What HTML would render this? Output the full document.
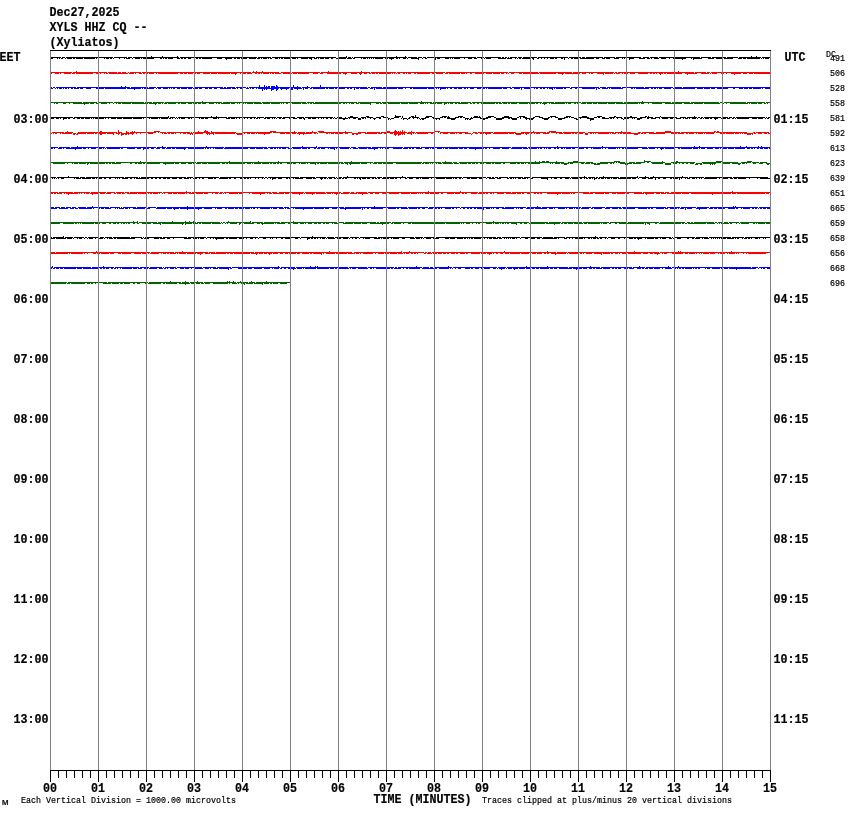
<!DOCTYPE html>
<html><head><meta charset="utf-8"><title>XYLS HHZ CQ -- (Xyliatos)</title>
<style>
html,body{margin:0;padding:0;background:#fff;}
body{width:850px;height:814px;overflow:hidden;}
svg{display:block;will-change:transform;}
.b{font-family:"Liberation Mono","DejaVu Sans Mono",monospace;font-weight:bold;font-size:13.66px;fill:#000;stroke:#000;stroke-width:.2px;}
.t{font-family:"Liberation Mono","DejaVu Sans Mono",monospace;font-weight:normal;font-size:9.1px;fill:#000;stroke:#000;stroke-width:.2px;}
</style></head><body>
<svg width="850" height="814" viewBox="0 0 850 814">
<rect width="850" height="814" fill="#fff"/>
<g shape-rendering="crispEdges">
<path fill="#000000" d="M50 57h3v2h-3zM53 57h4v1h-4zM57 57h1v2h-1zM58 57h1v1h-1zM59 57h1v2h-1zM60 57h1v1h-1zM61 58h1v1h-1zM62 57h1v2h-1zM63 57h2v1h-2zM65 58h1v1h-1zM66 57h1v1h-1zM67 57h5v2h-5zM72 57h1v1h-1zM73 57h2v2h-2zM75 57h1v1h-1zM76 57h7v2h-7zM83 57h1v1h-1zM84 57h11v2h-11zM95 57h1v1h-1zM96 57h1v2h-1zM97 57h1v1h-1zM98 57h1v2h-1zM99 57h5v1h-5zM104 57h1v2h-1zM105 57h1v1h-1zM106 57h3v2h-3zM109 57h1v1h-1zM110 57h2v2h-2zM112 57h1v1h-1zM113 58h1v1h-1zM114 57h5v1h-5zM119 57h1v2h-1zM120 57h4v1h-4zM124 57h1v2h-1zM125 57h1v1h-1zM126 57h1v2h-1zM127 58h1v1h-1zM128 57h2v2h-2zM130 57h2v1h-2zM132 58h1v1h-1zM133 57h2v1h-2zM135 57h5v2h-5zM140 57h1v1h-1zM141 57h1v2h-1zM142 57h1v1h-1zM143 57h8v2h-8zM151 56h1v3h-1zM152 57h2v2h-2zM154 57h6v1h-6zM160 57h2v2h-2zM162 56h1v2h-1zM163 57h1v2h-1zM164 57h1v1h-1zM165 57h2v2h-2zM167 57h1v1h-1zM168 57h5v2h-5zM173 57h4v1h-4zM177 56h1v3h-1zM178 57h1v2h-1zM179 58h1v1h-1zM180 57h1v1h-1zM181 57h2v2h-2zM183 57h1v1h-1zM184 57h2v2h-2zM186 57h2v1h-2zM188 57h3v2h-3zM191 57h3v1h-3zM194 57h1v2h-1zM195 57h1v1h-1zM196 57h2v2h-2zM198 57h1v1h-1zM199 57h2v2h-2zM201 57h1v1h-1zM202 57h10v2h-10zM212 57h5v1h-5zM217 57h5v2h-5zM222 57h3v1h-3zM225 57h1v2h-1zM226 57h1v3h-1zM227 57h5v2h-5zM232 57h2v1h-2zM234 57h2v2h-2zM236 57h1v1h-1zM237 57h3v2h-3zM240 57h1v1h-1zM241 57h1v2h-1zM242 57h1v1h-1zM243 57h4v2h-4zM247 57h2v1h-2zM249 57h7v2h-7zM256 57h1v1h-1zM257 58h1v1h-1zM258 57h2v2h-2zM260 57h1v1h-1zM261 57h1v2h-1zM262 57h1v1h-1zM263 57h4v2h-4zM267 57h1v1h-1zM268 57h1v2h-1zM269 57h1v1h-1zM270 57h1v2h-1zM271 58h1v1h-1zM272 57h3v1h-3zM275 57h3v2h-3zM278 57h1v1h-1zM279 57h1v2h-1zM280 57h1v1h-1zM281 57h2v2h-2zM283 57h1v1h-1zM284 57h6v2h-6zM290 57h2v1h-2zM292 57h4v2h-4zM296 57h1v1h-1zM297 57h1v2h-1zM298 57h3v1h-3zM301 57h7v2h-7zM308 57h1v1h-1zM309 57h2v2h-2zM311 57h1v3h-1zM312 57h2v1h-2zM314 57h1v2h-1zM315 58h1v1h-1zM316 57h1v2h-1zM317 57h1v1h-1zM318 57h1v2h-1zM319 57h1v1h-1zM320 57h4v2h-4zM324 57h1v1h-1zM325 57h4v2h-4zM329 57h2v1h-2zM331 57h2v2h-2zM333 57h3v1h-3zM336 58h2v1h-2zM338 57h1v1h-1zM339 57h7v2h-7zM346 56h1v2h-1zM347 58h1v1h-1zM348 57h3v2h-3zM351 58h1v1h-1zM352 57h1v1h-1zM353 58h1v1h-1zM354 57h1v2h-1zM355 57h6v1h-6zM361 57h1v2h-1zM362 57h1v1h-1zM363 57h3v2h-3zM366 57h1v1h-1zM367 57h1v2h-1zM368 57h1v1h-1zM369 57h1v2h-1zM370 57h1v1h-1zM371 57h1v2h-1zM372 57h1v1h-1zM373 57h1v2h-1zM374 57h1v1h-1zM375 57h8v2h-8zM383 57h2v1h-2zM385 57h3v2h-3zM388 57h1v1h-1zM389 57h2v2h-2zM391 57h1v3h-1zM392 57h2v2h-2zM394 57h2v1h-2zM396 56h1v3h-1zM397 57h1v2h-1zM398 57h1v1h-1zM399 57h1v2h-1zM400 57h3v1h-3zM403 57h2v2h-2zM405 56h1v3h-1zM406 57h1v1h-1zM407 58h1v1h-1zM408 57h3v1h-3zM411 57h6v2h-6zM417 58h1v1h-1zM418 57h1v3h-1zM419 57h3v1h-3zM422 58h1v1h-1zM423 57h2v1h-2zM425 57h1v2h-1zM426 58h1v1h-1zM427 57h7v1h-7zM434 57h1v2h-1zM435 57h1v3h-1zM436 57h1v1h-1zM437 57h3v2h-3zM440 57h5v1h-5zM445 57h4v2h-4zM449 57h1v1h-1zM450 57h1v2h-1zM451 57h1v1h-1zM452 57h1v2h-1zM453 57h1v1h-1zM454 57h6v2h-6zM460 57h4v1h-4zM464 57h1v2h-1zM465 57h3v1h-3zM468 57h4v2h-4zM472 57h2v1h-2zM474 57h2v2h-2zM476 58h1v1h-1zM477 57h4v1h-4zM481 57h1v2h-1zM482 57h2v1h-2zM484 58h1v1h-1zM485 57h1v1h-1zM486 57h5v2h-5zM491 57h7v1h-7zM498 57h3v2h-3zM501 58h1v1h-1zM502 57h2v2h-2zM504 58h1v1h-1zM505 57h1v2h-1zM506 57h1v1h-1zM507 58h1v1h-1zM508 57h1v2h-1zM509 58h1v1h-1zM510 57h2v2h-2zM512 57h3v1h-3zM515 57h1v2h-1zM516 57h1v1h-1zM517 58h1v1h-1zM518 57h1v1h-1zM519 57h2v2h-2zM521 57h1v1h-1zM522 58h1v1h-1zM523 57h7v2h-7zM530 57h2v1h-2zM532 57h1v2h-1zM533 57h1v3h-1zM534 57h3v1h-3zM537 58h1v1h-1zM538 57h1v2h-1zM539 57h2v1h-2zM541 57h1v2h-1zM542 57h2v1h-2zM544 57h1v2h-1zM545 57h2v1h-2zM547 57h1v2h-1zM548 57h2v1h-2zM550 57h4v2h-4zM554 57h1v1h-1zM555 57h2v2h-2zM557 57h4v1h-4zM561 57h2v2h-2zM563 57h1v1h-1zM564 57h1v3h-1zM565 57h3v1h-3zM568 58h1v1h-1zM569 57h2v1h-2zM571 57h2v2h-2zM573 57h1v1h-1zM574 57h5v2h-5zM579 57h1v1h-1zM580 57h1v2h-1zM581 58h1v1h-1zM582 57h3v2h-3zM585 58h1v1h-1zM586 57h8v2h-8zM594 57h2v1h-2zM596 57h3v2h-3zM599 57h3v1h-3zM602 57h1v2h-1zM603 58h1v1h-1zM604 57h1v2h-1zM605 57h1v1h-1zM606 57h4v2h-4zM610 57h4v1h-4zM614 57h1v2h-1zM615 58h1v1h-1zM616 57h3v2h-3zM619 57h3v1h-3zM622 57h1v2h-1zM623 57h1v1h-1zM624 57h1v2h-1zM625 57h1v1h-1zM626 57h1v2h-1zM627 57h2v1h-2zM629 57h1v3h-1zM630 57h4v2h-4zM634 57h5v1h-5zM639 57h2v2h-2zM641 58h2v1h-2zM643 57h2v2h-2zM645 57h2v1h-2zM647 57h2v2h-2zM649 58h1v1h-1zM650 57h1v1h-1zM651 57h1v2h-1zM652 57h2v1h-2zM654 57h4v2h-4zM658 58h1v1h-1zM659 57h2v1h-2zM661 57h5v2h-5zM666 57h3v1h-3zM669 57h1v2h-1zM670 57h3v1h-3zM673 57h9v2h-9zM682 57h1v3h-1zM683 57h3v2h-3zM686 57h5v1h-5zM691 57h1v2h-1zM692 57h1v1h-1zM693 57h1v3h-1zM694 57h6v2h-6zM700 58h1v1h-1zM701 57h1v2h-1zM702 57h6v1h-6zM708 57h3v2h-3zM711 58h1v1h-1zM712 57h2v2h-2zM714 57h2v1h-2zM716 57h7v2h-7zM723 57h1v1h-1zM724 57h2v2h-2zM726 58h1v1h-1zM727 57h6v2h-6zM733 57h5v1h-5zM738 58h1v1h-1zM739 57h3v2h-3zM742 57h1v1h-1zM743 57h3v2h-3zM746 57h1v1h-1zM747 57h4v2h-4zM751 56h1v3h-1zM752 57h4v2h-4zM756 56h1v3h-1zM757 57h3v2h-3zM760 57h1v1h-1zM761 58h1v1h-1zM762 57h1v1h-1zM763 57h1v2h-1zM764 57h1v1h-1zM765 57h4v2h-4zM769 57h2v1h-2z"/>
<path fill="#ff0000" d="M50 72h2v2h-2zM52 72h3v1h-3zM55 72h4v2h-4zM59 72h1v1h-1zM60 72h1v2h-1zM61 72h3v1h-3zM64 72h7v2h-7zM71 72h1v1h-1zM72 73h1v1h-1zM73 72h2v2h-2zM75 72h1v1h-1zM76 71h1v3h-1zM77 72h16v2h-16zM93 72h3v1h-3zM96 72h2v2h-2zM98 72h2v1h-2zM100 72h1v2h-1zM101 72h3v1h-3zM104 72h1v2h-1zM105 72h1v1h-1zM106 72h1v2h-1zM107 73h1v1h-1zM108 72h1v1h-1zM109 72h8v2h-8zM117 73h1v1h-1zM118 72h3v2h-3zM121 73h1v1h-1zM122 72h4v2h-4zM126 73h2v1h-2zM128 72h1v1h-1zM129 73h1v1h-1zM130 72h4v2h-4zM134 72h1v1h-1zM135 72h1v2h-1zM136 72h3v1h-3zM139 72h2v2h-2zM141 73h1v1h-1zM142 72h1v1h-1zM143 72h2v2h-2zM145 72h2v1h-2zM147 72h1v2h-1zM148 72h1v1h-1zM149 72h5v2h-5zM154 72h2v1h-2zM156 72h1v2h-1zM157 72h1v1h-1zM158 72h20v2h-20zM178 72h2v1h-2zM180 72h3v2h-3zM183 72h1v1h-1zM184 72h3v2h-3zM187 72h1v1h-1zM188 72h5v2h-5zM193 72h1v1h-1zM194 72h2v2h-2zM196 72h1v1h-1zM197 72h3v2h-3zM200 72h3v1h-3zM203 72h7v2h-7zM210 72h1v1h-1zM211 72h6v2h-6zM217 72h1v1h-1zM218 72h12v2h-12zM230 72h1v1h-1zM231 72h4v2h-4zM235 72h1v3h-1zM236 72h1v2h-1zM237 72h3v1h-3zM240 72h1v2h-1zM241 72h1v1h-1zM242 72h4v2h-4zM246 72h1v1h-1zM247 72h4v2h-4zM251 73h1v1h-1zM252 72h1v1h-1zM253 71h1v2h-1zM254 72h1v1h-1zM255 72h1v2h-1zM256 71h1v3h-1zM257 72h1v1h-1zM258 72h2v2h-2zM260 72h1v1h-1zM261 72h1v2h-1zM262 71h1v2h-1zM263 72h6v2h-6zM269 72h1v1h-1zM270 72h1v2h-1zM271 72h1v1h-1zM272 72h2v2h-2zM274 72h1v1h-1zM275 72h4v2h-4zM279 73h2v1h-2zM281 72h2v1h-2zM283 72h7v2h-7zM290 73h2v1h-2zM292 72h1v1h-1zM293 72h4v2h-4zM297 72h1v1h-1zM298 72h11v2h-11zM309 72h4v1h-4zM313 72h5v2h-5zM318 72h2v1h-2zM320 73h1v1h-1zM321 72h2v2h-2zM323 72h4v1h-4zM327 72h1v2h-1zM328 71h1v3h-1zM329 72h12v2h-12zM341 72h2v1h-2zM343 72h2v2h-2zM345 72h1v3h-1zM346 72h1v2h-1zM347 72h4v1h-4zM351 72h6v2h-6zM357 72h2v1h-2zM359 72h1v2h-1zM360 72h1v3h-1zM361 71h1v3h-1zM362 72h2v1h-2zM364 72h3v2h-3zM367 72h2v1h-2zM369 72h1v2h-1zM370 73h1v1h-1zM371 72h1v1h-1zM372 72h3v2h-3zM375 72h1v1h-1zM376 72h2v2h-2zM378 72h1v1h-1zM379 72h12v2h-12zM391 72h1v1h-1zM392 72h1v2h-1zM393 72h1v1h-1zM394 72h1v2h-1zM395 72h1v1h-1zM396 73h1v1h-1zM397 72h1v1h-1zM398 72h2v2h-2zM400 72h3v1h-3zM403 72h2v2h-2zM405 72h1v1h-1zM406 72h1v2h-1zM407 72h1v1h-1zM408 72h3v2h-3zM411 72h3v1h-3zM414 72h2v2h-2zM416 72h1v1h-1zM417 72h13v2h-13zM430 72h2v1h-2zM432 72h2v2h-2zM434 72h2v1h-2zM436 72h7v2h-7zM443 72h2v1h-2zM445 73h1v1h-1zM446 72h2v2h-2zM448 72h1v1h-1zM449 72h11v2h-11zM460 72h1v1h-1zM461 72h4v2h-4zM465 72h1v1h-1zM466 72h1v2h-1zM467 72h3v1h-3zM470 72h2v2h-2zM472 72h3v1h-3zM475 72h7v2h-7zM482 73h1v1h-1zM483 72h1v2h-1zM484 72h2v1h-2zM486 72h6v2h-6zM492 72h1v1h-1zM493 72h7v2h-7zM500 72h1v1h-1zM501 72h3v2h-3zM504 72h2v1h-2zM506 72h1v2h-1zM507 72h1v1h-1zM508 73h1v1h-1zM509 72h2v1h-2zM511 72h3v2h-3zM514 72h5v1h-5zM519 72h3v2h-3zM522 72h1v1h-1zM523 72h7v2h-7zM530 72h1v3h-1zM531 72h7v2h-7zM538 73h1v1h-1zM539 72h1v1h-1zM540 72h16v2h-16zM556 72h2v1h-2zM558 72h4v2h-4zM562 72h1v3h-1zM563 72h1v2h-1zM564 72h1v1h-1zM565 72h7v2h-7zM572 73h1v1h-1zM573 72h5v2h-5zM578 72h1v3h-1zM579 72h1v2h-1zM580 72h2v1h-2zM582 72h4v2h-4zM586 72h3v1h-3zM589 72h1v2h-1zM590 72h1v1h-1zM591 72h2v2h-2zM593 72h4v1h-4zM597 72h6v2h-6zM603 72h1v3h-1zM604 72h1v1h-1zM605 72h8v2h-8zM613 72h1v1h-1zM614 73h1v1h-1zM615 72h1v1h-1zM616 72h1v2h-1zM617 73h1v1h-1zM618 72h2v2h-2zM620 72h2v1h-2zM622 72h1v2h-1zM623 72h1v1h-1zM624 72h4v2h-4zM628 72h2v1h-2zM630 72h5v2h-5zM635 72h3v1h-3zM638 72h10v2h-10zM648 72h2v1h-2zM650 72h2v2h-2zM652 72h1v1h-1zM653 72h2v2h-2zM655 72h1v1h-1zM656 72h1v2h-1zM657 72h2v1h-2zM659 72h1v2h-1zM660 72h1v3h-1zM661 72h2v2h-2zM663 72h1v1h-1zM664 72h2v2h-2zM666 72h1v1h-1zM667 72h7v2h-7zM674 73h1v1h-1zM675 72h3v2h-3zM678 71h1v3h-1zM679 72h3v2h-3zM682 72h3v1h-3zM685 72h2v2h-2zM687 72h1v3h-1zM688 72h6v2h-6zM694 73h1v1h-1zM695 72h2v2h-2zM697 72h4v1h-4zM701 72h5v2h-5zM706 73h1v1h-1zM707 72h2v2h-2zM709 72h1v1h-1zM710 73h1v1h-1zM711 72h1v1h-1zM712 72h5v2h-5zM717 72h4v1h-4zM721 72h1v2h-1zM722 73h1v1h-1zM723 72h1v2h-1zM724 72h2v1h-2zM726 72h1v2h-1zM727 72h4v1h-4zM731 72h3v2h-3zM734 72h1v3h-1zM735 72h6v2h-6zM741 72h2v1h-2zM743 72h4v2h-4zM747 72h2v1h-2zM749 72h4v2h-4zM753 72h1v1h-1zM754 72h17v2h-17z"/>
<path fill="#0000ff" d="M50 87h2v2h-2zM52 88h1v1h-1zM53 87h2v1h-2zM55 88h1v1h-1zM56 87h1v1h-1zM57 87h1v2h-1zM58 87h1v1h-1zM59 87h3v2h-3zM62 87h1v1h-1zM63 87h1v2h-1zM64 87h1v1h-1zM65 87h2v2h-2zM67 87h1v1h-1zM68 87h1v2h-1zM69 87h2v1h-2zM71 87h2v2h-2zM73 87h1v1h-1zM74 87h2v2h-2zM76 88h1v1h-1zM77 87h2v2h-2zM79 87h1v1h-1zM80 87h3v2h-3zM83 87h3v1h-3zM86 87h5v2h-5zM91 87h5v1h-5zM96 87h8v2h-8zM104 87h1v1h-1zM105 87h16v2h-16zM121 86h1v3h-1zM122 87h3v2h-3zM125 86h1v3h-1zM126 87h1v1h-1zM127 87h3v2h-3zM130 88h1v1h-1zM131 87h3v2h-3zM134 87h1v3h-1zM135 87h6v2h-6zM141 87h1v1h-1zM142 87h1v2h-1zM143 87h1v1h-1zM144 87h2v2h-2zM146 87h1v1h-1zM147 87h1v2h-1zM148 88h1v1h-1zM149 87h5v2h-5zM154 87h2v1h-2zM156 88h1v1h-1zM157 87h1v1h-1zM158 87h3v2h-3zM161 87h2v1h-2zM163 87h5v2h-5zM168 87h1v1h-1zM169 87h1v2h-1zM170 87h1v1h-1zM171 87h1v2h-1zM172 87h1v1h-1zM173 87h2v2h-2zM175 87h2v1h-2zM177 87h3v2h-3zM180 87h1v1h-1zM181 87h6v2h-6zM187 87h1v1h-1zM188 87h4v2h-4zM192 87h1v1h-1zM193 88h1v1h-1zM194 87h1v1h-1zM195 87h3v2h-3zM198 87h1v1h-1zM199 87h3v2h-3zM202 87h3v1h-3zM205 87h3v2h-3zM208 87h1v1h-1zM209 87h3v2h-3zM212 87h2v1h-2zM214 87h3v2h-3zM217 87h3v1h-3zM220 87h3v2h-3zM223 88h1v1h-1zM224 87h2v2h-2zM226 88h1v1h-1zM227 87h4v2h-4zM231 87h1v1h-1zM232 87h3v2h-3zM235 88h1v1h-1zM236 87h1v1h-1zM237 87h1v2h-1zM238 87h2v1h-2zM240 87h2v2h-2zM242 87h4v1h-4zM246 88h1v1h-1zM247 87h1v2h-1zM248 88h1v1h-1zM249 87h1v1h-1zM250 87h1v2h-1zM251 87h1v1h-1zM252 87h2v2h-2zM254 87h2v1h-2zM256 87h1v2h-1zM257 87h1v1h-1zM258 87h1v2h-1zM259 85h1v4h-1zM260 87h2v2h-2zM262 87h1v4h-1zM263 87h1v2h-1zM264 85h1v5h-1zM265 87h1v2h-1zM266 86h1v4h-1zM267 87h1v2h-1zM268 86h2v3h-2zM270 88h1v1h-1zM271 86h1v5h-1zM272 86h2v4h-2zM274 86h1v3h-1zM275 87h1v2h-1zM276 85h1v6h-1zM277 86h1v4h-1zM278 87h1v2h-1zM279 87h1v1h-1zM280 87h1v2h-1zM281 87h1v3h-1zM282 87h4v2h-4zM286 87h1v3h-1zM287 87h2v2h-2zM289 87h1v1h-1zM290 86h1v4h-1zM291 87h2v3h-2zM293 85h1v3h-1zM294 87h3v2h-3zM297 86h1v4h-1zM298 87h3v2h-3zM301 88h1v1h-1zM302 87h1v1h-1zM303 87h1v3h-1zM304 87h1v1h-1zM305 87h2v2h-2zM307 86h1v3h-1zM308 87h2v1h-2zM310 88h1v1h-1zM311 87h1v2h-1zM312 87h1v1h-1zM313 87h7v2h-7zM320 85h1v4h-1zM321 87h4v2h-4zM325 87h1v1h-1zM326 87h2v2h-2zM328 87h1v1h-1zM329 87h5v2h-5zM334 87h1v1h-1zM335 87h2v2h-2zM337 87h1v1h-1zM338 87h7v2h-7zM345 87h2v1h-2zM347 87h2v2h-2zM349 87h1v1h-1zM350 87h2v2h-2zM352 87h2v1h-2zM354 87h1v3h-1zM355 87h1v1h-1zM356 87h3v2h-3zM359 87h1v1h-1zM360 87h7v2h-7zM367 88h1v1h-1zM368 87h2v1h-2zM370 88h1v1h-1zM371 87h2v2h-2zM373 87h1v1h-1zM374 87h1v3h-1zM375 87h1v1h-1zM376 87h6v2h-6zM382 88h1v1h-1zM383 87h14v2h-14zM397 87h1v1h-1zM398 87h5v2h-5zM403 87h2v1h-2zM405 87h1v2h-1zM406 87h4v1h-4zM410 87h2v2h-2zM412 87h1v1h-1zM413 87h14v2h-14zM427 87h1v1h-1zM428 87h7v2h-7zM435 87h1v1h-1zM436 87h1v2h-1zM437 87h1v1h-1zM438 87h1v2h-1zM439 87h1v1h-1zM440 87h1v3h-1zM441 87h5v2h-5zM446 87h1v1h-1zM447 87h1v2h-1zM448 87h2v1h-2zM450 87h2v2h-2zM452 87h2v1h-2zM454 87h3v2h-3zM457 87h1v1h-1zM458 87h4v2h-4zM462 87h2v1h-2zM464 87h2v2h-2zM466 87h1v1h-1zM467 87h1v2h-1zM468 87h2v1h-2zM470 87h4v2h-4zM474 87h3v1h-3zM477 87h4v2h-4zM481 87h1v1h-1zM482 87h3v2h-3zM485 87h1v1h-1zM486 87h1v2h-1zM487 87h1v1h-1zM488 87h14v2h-14zM502 87h1v1h-1zM503 87h4v2h-4zM507 87h3v1h-3zM510 87h1v2h-1zM511 88h1v1h-1zM512 87h2v1h-2zM514 87h6v2h-6zM520 87h1v1h-1zM521 87h1v3h-1zM522 87h2v1h-2zM524 87h6v2h-6zM530 87h4v1h-4zM534 87h1v2h-1zM535 87h1v1h-1zM536 87h2v2h-2zM538 87h2v1h-2zM540 87h2v2h-2zM542 87h1v1h-1zM543 87h2v2h-2zM545 87h2v1h-2zM547 87h1v2h-1zM548 87h1v1h-1zM549 87h3v2h-3zM552 87h1v3h-1zM553 87h1v1h-1zM554 87h1v2h-1zM555 87h1v1h-1zM556 87h7v2h-7zM563 87h1v1h-1zM564 87h2v2h-2zM566 87h4v1h-4zM570 88h1v1h-1zM571 87h1v2h-1zM572 87h3v1h-3zM575 87h2v2h-2zM577 87h5v1h-5zM582 87h13v2h-13zM595 87h1v1h-1zM596 87h1v3h-1zM597 87h1v1h-1zM598 87h1v2h-1zM599 88h1v1h-1zM600 87h2v1h-2zM602 87h4v2h-4zM606 88h1v1h-1zM607 87h1v2h-1zM608 87h1v1h-1zM609 87h1v2h-1zM610 87h1v1h-1zM611 87h10v2h-10zM621 88h1v1h-1zM622 87h1v2h-1zM623 87h8v1h-8zM631 87h2v2h-2zM633 87h1v1h-1zM634 87h1v2h-1zM635 87h1v1h-1zM636 87h8v2h-8zM644 88h1v1h-1zM645 87h4v2h-4zM649 87h2v1h-2zM651 87h2v2h-2zM653 87h1v1h-1zM654 87h2v2h-2zM656 87h1v1h-1zM657 87h1v2h-1zM658 87h1v1h-1zM659 87h3v2h-3zM662 87h2v1h-2zM664 87h7v2h-7zM671 87h2v1h-2zM673 88h1v1h-1zM674 87h8v2h-8zM682 88h1v1h-1zM683 87h12v2h-12zM695 87h2v1h-2zM697 87h6v2h-6zM703 87h1v1h-1zM704 87h6v2h-6zM710 87h1v1h-1zM711 87h4v2h-4zM715 87h2v1h-2zM717 87h11v2h-11zM728 87h5v1h-5zM733 87h2v2h-2zM735 87h4v1h-4zM739 87h4v2h-4zM743 87h1v1h-1zM744 87h4v2h-4zM748 87h1v1h-1zM749 87h3v2h-3zM752 87h1v1h-1zM753 87h8v2h-8zM761 87h1v1h-1zM762 87h1v2h-1zM763 87h2v1h-2zM765 87h6v2h-6z"/>
<path fill="#006400" d="M50 102h1v2h-1zM51 102h3v1h-3zM54 102h1v2h-1zM55 102h1v1h-1zM56 102h2v2h-2zM58 102h5v1h-5zM63 102h3v2h-3zM66 102h3v1h-3zM69 102h1v2h-1zM70 102h3v1h-3zM73 102h9v2h-9zM82 103h1v1h-1zM83 102h1v2h-1zM84 102h1v3h-1zM85 102h4v2h-4zM89 102h1v1h-1zM90 102h4v2h-4zM94 102h2v1h-2zM96 102h1v2h-1zM97 103h1v1h-1zM98 102h3v1h-3zM101 102h6v2h-6zM107 102h2v1h-2zM109 102h1v2h-1zM110 102h3v1h-3zM113 103h1v1h-1zM114 102h2v1h-2zM116 102h1v2h-1zM117 102h1v1h-1zM118 102h3v2h-3zM121 102h1v1h-1zM122 102h9v2h-9zM131 102h1v1h-1zM132 102h12v2h-12zM144 103h1v1h-1zM145 102h3v2h-3zM148 102h1v1h-1zM149 102h3v2h-3zM152 103h1v1h-1zM153 102h2v2h-2zM155 102h1v3h-1zM156 102h1v2h-1zM157 102h1v1h-1zM158 102h3v2h-3zM161 102h1v1h-1zM162 102h1v2h-1zM163 102h1v1h-1zM164 103h1v1h-1zM165 102h2v2h-2zM167 102h1v1h-1zM168 102h8v2h-8zM176 102h2v1h-2zM178 102h2v2h-2zM180 102h1v1h-1zM181 102h5v2h-5zM186 102h2v1h-2zM188 102h4v2h-4zM192 102h1v1h-1zM193 102h4v2h-4zM197 102h1v1h-1zM198 102h3v2h-3zM201 102h1v1h-1zM202 101h1v3h-1zM203 102h3v2h-3zM206 102h3v1h-3zM209 102h5v2h-5zM214 102h2v1h-2zM216 102h1v2h-1zM217 102h1v1h-1zM218 102h2v2h-2zM220 102h1v1h-1zM221 102h1v2h-1zM222 103h1v1h-1zM223 102h7v2h-7zM230 102h1v1h-1zM231 102h4v2h-4zM235 102h2v1h-2zM237 102h1v2h-1zM238 102h1v1h-1zM239 102h1v2h-1zM240 102h2v1h-2zM242 102h2v2h-2zM244 102h1v1h-1zM245 102h1v2h-1zM246 102h1v1h-1zM247 102h6v2h-6zM253 102h1v1h-1zM254 102h7v2h-7zM261 103h1v1h-1zM262 102h1v1h-1zM263 102h7v2h-7zM270 102h1v1h-1zM271 102h9v2h-9zM280 102h1v1h-1zM281 102h1v2h-1zM282 102h1v1h-1zM283 102h1v2h-1zM284 102h2v1h-2zM286 102h2v2h-2zM288 102h2v1h-2zM290 102h1v2h-1zM291 102h1v1h-1zM292 102h9v2h-9zM301 102h1v1h-1zM302 102h4v2h-4zM306 103h1v1h-1zM307 102h1v1h-1zM308 102h1v2h-1zM309 102h1v1h-1zM310 102h2v2h-2zM312 102h1v1h-1zM313 102h1v2h-1zM314 103h1v1h-1zM315 102h26v2h-26zM341 102h2v1h-2zM343 102h2v2h-2zM345 102h1v1h-1zM346 102h1v2h-1zM347 102h2v1h-2zM349 102h1v2h-1zM350 102h1v1h-1zM351 102h3v2h-3zM354 102h2v1h-2zM356 102h1v2h-1zM357 103h1v1h-1zM358 102h1v2h-1zM359 102h1v1h-1zM360 102h10v2h-10zM370 102h1v3h-1zM371 102h5v1h-5zM376 102h3v2h-3zM379 102h1v1h-1zM380 102h1v2h-1zM381 103h1v1h-1zM382 102h1v1h-1zM383 102h3v2h-3zM386 102h2v1h-2zM388 102h12v2h-12zM400 102h1v1h-1zM401 102h7v2h-7zM408 102h1v1h-1zM409 102h9v2h-9zM418 102h2v1h-2zM420 102h1v2h-1zM421 101h1v3h-1zM422 102h2v2h-2zM424 102h1v1h-1zM425 102h1v2h-1zM426 102h1v1h-1zM427 102h1v2h-1zM428 102h2v1h-2zM430 102h2v2h-2zM432 103h1v1h-1zM433 102h1v2h-1zM434 102h1v1h-1zM435 102h1v2h-1zM436 102h1v1h-1zM437 102h5v2h-5zM442 102h2v1h-2zM444 102h1v3h-1zM445 102h2v2h-2zM447 102h1v1h-1zM448 102h1v2h-1zM449 102h1v1h-1zM450 102h3v2h-3zM453 102h2v1h-2zM455 102h2v2h-2zM457 102h1v1h-1zM458 102h2v2h-2zM460 103h1v1h-1zM461 102h7v2h-7zM468 102h2v1h-2zM470 102h1v2h-1zM471 103h1v1h-1zM472 102h1v1h-1zM473 102h2v2h-2zM475 102h2v1h-2zM477 102h2v2h-2zM479 102h2v1h-2zM481 102h14v2h-14zM495 102h1v1h-1zM496 102h2v2h-2zM498 102h1v1h-1zM499 102h2v2h-2zM501 103h1v1h-1zM502 102h1v1h-1zM503 102h4v2h-4zM507 102h1v1h-1zM508 102h2v2h-2zM510 102h1v1h-1zM511 102h6v2h-6zM517 102h2v1h-2zM519 102h9v2h-9zM528 102h1v1h-1zM529 102h1v2h-1zM530 102h1v1h-1zM531 102h4v2h-4zM535 102h1v1h-1zM536 102h2v2h-2zM538 102h2v1h-2zM540 102h1v2h-1zM541 102h1v1h-1zM542 103h1v1h-1zM543 102h1v2h-1zM544 102h1v3h-1zM545 102h2v2h-2zM547 102h2v1h-2zM549 102h1v2h-1zM550 102h1v1h-1zM551 102h3v2h-3zM554 103h1v1h-1zM555 102h10v2h-10zM565 102h1v1h-1zM566 102h1v2h-1zM567 102h1v1h-1zM568 102h3v2h-3zM571 102h3v1h-3zM574 102h2v2h-2zM576 102h1v1h-1zM577 102h2v2h-2zM579 102h2v1h-2zM581 103h1v1h-1zM582 102h4v2h-4zM586 102h1v1h-1zM587 102h5v2h-5zM592 102h1v1h-1zM593 102h4v2h-4zM597 102h1v1h-1zM598 102h9v2h-9zM607 102h1v1h-1zM608 102h7v2h-7zM615 102h1v1h-1zM616 102h7v2h-7zM623 103h1v1h-1zM624 102h14v2h-14zM638 102h1v1h-1zM639 102h1v2h-1zM640 102h1v1h-1zM641 102h1v2h-1zM642 101h1v3h-1zM643 102h1v2h-1zM644 102h4v1h-4zM648 102h1v2h-1zM649 102h3v1h-3zM652 102h10v2h-10zM662 102h3v1h-3zM665 102h6v2h-6zM671 103h1v1h-1zM672 102h10v2h-10zM682 102h2v1h-2zM684 102h6v2h-6zM690 103h1v1h-1zM691 102h2v2h-2zM693 102h1v1h-1zM694 102h9v2h-9zM703 102h1v1h-1zM704 102h15v2h-15zM719 103h1v1h-1zM720 102h3v1h-3zM723 103h1v1h-1zM724 102h2v1h-2zM726 102h1v2h-1zM727 102h3v1h-3zM730 102h16v2h-16zM746 103h1v1h-1zM747 102h1v2h-1zM748 102h1v1h-1zM749 102h1v2h-1zM750 102h1v1h-1zM751 102h6v2h-6zM757 102h1v1h-1zM758 102h4v2h-4zM762 102h2v1h-2zM764 102h1v2h-1zM765 103h1v1h-1zM766 102h1v1h-1zM767 102h1v2h-1zM768 102h3v1h-3z"/>
<path fill="#000000" d="M50 117h1v1h-1zM51 117h3v2h-3zM54 117h2v1h-2zM56 117h3v2h-3zM59 117h1v1h-1zM60 117h1v2h-1zM61 117h2v1h-2zM63 117h1v3h-1zM64 117h3v2h-3zM67 117h1v1h-1zM68 117h2v2h-2zM70 117h3v1h-3zM73 118h1v1h-1zM74 117h1v2h-1zM75 117h2v1h-2zM77 117h3v2h-3zM80 117h1v1h-1zM81 117h3v2h-3zM84 117h1v1h-1zM85 117h5v2h-5zM90 117h1v1h-1zM91 117h1v2h-1zM92 117h1v1h-1zM93 117h1v2h-1zM94 117h1v1h-1zM95 117h9v2h-9zM104 117h1v1h-1zM105 117h1v2h-1zM106 117h2v1h-2zM108 117h1v2h-1zM109 117h2v1h-2zM111 117h5v2h-5zM116 117h1v1h-1zM117 117h5v2h-5zM122 117h1v1h-1zM123 117h9v2h-9zM132 117h1v1h-1zM133 117h9v2h-9zM142 117h1v1h-1zM143 117h1v2h-1zM144 117h5v1h-5zM149 117h1v2h-1zM150 117h1v1h-1zM151 117h7v2h-7zM158 117h1v1h-1zM159 117h1v2h-1zM160 117h1v1h-1zM161 117h7v2h-7zM168 116h1v2h-1zM169 118h1v1h-1zM170 117h1v2h-1zM171 117h1v1h-1zM172 117h1v2h-1zM173 117h2v1h-2zM175 118h1v1h-1zM176 117h1v1h-1zM177 118h1v1h-1zM178 117h1v1h-1zM179 117h1v2h-1zM180 117h1v1h-1zM181 117h4v2h-4zM185 117h3v1h-3zM188 117h2v2h-2zM190 117h1v1h-1zM191 117h1v2h-1zM192 117h2v1h-2zM194 117h1v2h-1zM195 117h4v1h-4zM199 117h1v2h-1zM200 117h1v1h-1zM201 117h3v2h-3zM204 117h1v1h-1zM205 117h3v2h-3zM208 117h3v1h-3zM211 116h1v2h-1zM212 117h1v1h-1zM213 117h3v2h-3zM216 116h1v3h-1zM217 117h1v1h-1zM218 117h1v2h-1zM219 117h7v1h-7zM226 117h1v2h-1zM227 118h1v1h-1zM228 117h2v2h-2zM230 117h1v1h-1zM231 117h4v2h-4zM235 117h1v1h-1zM236 117h1v2h-1zM237 117h2v1h-2zM239 117h1v2h-1zM240 117h2v1h-2zM242 117h1v2h-1zM243 117h1v1h-1zM244 117h1v2h-1zM245 117h2v1h-2zM247 117h1v2h-1zM248 117h2v1h-2zM250 117h2v2h-2zM252 117h2v1h-2zM254 117h1v2h-1zM255 117h1v1h-1zM256 118h1v1h-1zM257 117h1v2h-1zM258 117h1v1h-1zM259 117h1v2h-1zM260 117h4v1h-4zM264 118h1v1h-1zM265 117h1v2h-1zM266 117h1v1h-1zM267 117h3v2h-3zM270 117h2v1h-2zM272 117h1v2h-1zM273 117h1v1h-1zM274 117h1v2h-1zM275 117h1v1h-1zM276 118h1v1h-1zM277 117h2v1h-2zM279 117h2v2h-2zM281 117h1v1h-1zM282 118h1v1h-1zM283 117h2v2h-2zM285 117h4v1h-4zM289 117h1v2h-1zM290 117h3v1h-3zM293 117h2v2h-2zM295 118h2v1h-2zM297 117h2v1h-2zM299 117h3v2h-3zM302 117h1v1h-1zM303 117h1v2h-1zM304 118h1v2h-1zM305 117h3v1h-3zM308 117h3v2h-3zM311 117h1v1h-1zM312 117h4v2h-4zM316 117h2v1h-2zM318 117h1v2h-1zM319 117h2v1h-2zM321 117h1v2h-1zM322 117h1v1h-1zM323 117h1v2h-1zM324 117h2v1h-2zM326 117h2v2h-2zM328 117h2v1h-2zM330 117h2v2h-2zM332 117h1v1h-1zM333 118h1v1h-1zM334 117h1v1h-1zM335 118h2v1h-2zM337 117h1v1h-1zM338 117h4v2h-4zM342 118h1v1h-1zM343 118h2v2h-2zM345 117h1v2h-1zM346 118h2v1h-2zM348 117h1v1h-1zM349 117h1v2h-1zM350 116h3v2h-3zM353 117h3v2h-3zM356 117h2v1h-2zM358 118h3v2h-3zM361 117h1v1h-1zM362 117h2v2h-2zM364 117h1v1h-1zM365 117h1v2h-1zM366 116h1v1h-1zM367 116h2v2h-2zM369 117h1v1h-1zM370 117h1v2h-1zM371 117h2v1h-2zM373 118h1v1h-1zM374 118h1v2h-1zM375 118h1v1h-1zM376 117h3v1h-3zM379 117h2v2h-2zM381 116h2v1h-2zM383 116h1v2h-1zM384 117h4v1h-4zM388 118h1v2h-1zM389 118h1v1h-1zM390 119h1v1h-1zM391 118h3v1h-3zM394 117h1v1h-1zM395 115h1v3h-1zM396 116h3v2h-3zM399 116h2v1h-2zM401 118h1v1h-1zM402 116h1v2h-1zM403 118h1v2h-1zM404 118h3v1h-3zM407 119h1v1h-1zM408 118h1v1h-1zM409 117h1v2h-1zM410 117h1v1h-1zM411 116h1v1h-1zM412 116h1v2h-1zM413 116h1v3h-1zM414 117h1v1h-1zM415 115h1v3h-1zM416 117h1v1h-1zM417 117h1v2h-1zM418 117h1v1h-1zM419 118h1v1h-1zM420 119h1v1h-1zM421 118h1v1h-1zM422 118h2v2h-2zM424 118h1v1h-1zM425 117h1v2h-1zM426 116h3v2h-3zM429 116h3v1h-3zM432 117h1v1h-1zM433 117h1v2h-1zM434 118h1v2h-1zM435 118h1v1h-1zM436 118h1v2h-1zM437 118h2v1h-2zM439 118h1v2h-1zM440 117h2v1h-2zM442 116h1v2h-1zM443 116h1v1h-1zM444 116h2v2h-2zM446 116h1v1h-1zM447 117h1v2h-1zM448 116h1v3h-1zM449 117h1v2h-1zM450 118h1v1h-1zM451 118h4v2h-4zM455 117h1v2h-1zM456 117h2v1h-2zM458 116h1v2h-1zM459 116h1v1h-1zM460 116h2v2h-2zM462 116h1v1h-1zM463 117h2v1h-2zM465 118h1v2h-1zM466 118h1v1h-1zM467 118h1v2h-1zM468 118h1v1h-1zM469 119h1v1h-1zM470 118h1v2h-1zM471 117h1v2h-1zM472 118h1v1h-1zM473 117h1v1h-1zM474 116h4v2h-4zM478 117h1v1h-1zM479 116h1v2h-1zM480 117h1v2h-1zM481 118h2v1h-2zM483 118h2v2h-2zM485 118h1v1h-1zM486 117h2v2h-2zM488 116h3v2h-3zM491 116h3v1h-3zM494 117h2v1h-2zM496 118h6v2h-6zM502 117h2v2h-2zM504 116h4v2h-4zM508 116h1v3h-1zM509 117h1v2h-1zM510 117h1v1h-1zM511 117h1v2h-1zM512 118h5v2h-5zM517 117h2v1h-2zM519 116h1v1h-1zM520 116h1v3h-1zM521 116h2v1h-2zM523 116h2v2h-2zM525 117h1v2h-1zM526 117h1v3h-1zM527 118h2v1h-2zM529 118h4v2h-4zM533 117h1v2h-1zM534 117h1v1h-1zM535 116h4v1h-4zM539 116h1v2h-1zM540 117h2v1h-2zM542 117h1v2h-1zM543 118h1v1h-1zM544 118h4v2h-4zM548 117h1v2h-1zM549 117h1v1h-1zM550 116h1v1h-1zM551 116h1v2h-1zM552 116h3v1h-3zM555 116h1v2h-1zM556 117h2v1h-2zM558 118h4v2h-4zM562 118h2v1h-2zM564 117h1v2h-1zM565 117h1v1h-1zM566 116h2v2h-2zM568 116h1v1h-1zM569 116h1v2h-1zM570 116h1v1h-1zM571 117h3v1h-3zM574 118h2v1h-2zM576 118h1v2h-1zM577 119h1v1h-1zM578 118h1v2h-1zM579 117h1v1h-1zM580 117h1v2h-1zM581 117h1v1h-1zM582 116h5v2h-5zM587 117h2v2h-2zM589 118h1v1h-1zM590 118h1v3h-1zM591 118h3v2h-3zM594 117h3v1h-3zM597 116h1v1h-1zM598 116h2v2h-2zM600 116h2v1h-2zM602 117h3v2h-3zM605 118h4v1h-4zM609 117h1v1h-1zM610 117h2v2h-2zM612 117h1v1h-1zM613 117h1v2h-1zM614 116h1v2h-1zM615 116h1v1h-1zM616 117h1v1h-1zM617 117h1v2h-1zM618 117h3v1h-3zM621 117h1v2h-1zM622 118h1v1h-1zM623 119h1v1h-1zM624 117h5v2h-5zM629 117h1v1h-1zM630 116h2v2h-2zM632 117h1v2h-1zM633 117h1v1h-1zM634 117h1v2h-1zM635 117h2v1h-2zM637 118h3v2h-3zM640 117h2v2h-2zM642 117h3v1h-3zM645 116h1v2h-1zM646 116h1v1h-1zM647 117h1v2h-1zM648 116h1v3h-1zM649 117h2v1h-2zM651 117h2v2h-2zM653 118h2v1h-2zM655 117h1v2h-1zM656 117h3v1h-3zM659 117h1v2h-1zM660 116h1v1h-1zM661 117h1v1h-1zM662 117h6v2h-6zM668 117h2v1h-2zM670 117h3v2h-3zM673 117h3v1h-3zM676 117h1v2h-1zM677 118h3v1h-3zM680 117h1v2h-1zM681 117h2v1h-2zM683 117h1v2h-1zM684 117h1v1h-1zM685 117h1v2h-1zM686 118h1v1h-1zM687 117h1v2h-1zM688 117h1v1h-1zM689 117h1v2h-1zM690 117h2v1h-2zM692 117h2v2h-2zM694 116h1v3h-1zM695 117h1v2h-1zM696 117h1v1h-1zM697 118h1v1h-1zM698 117h2v1h-2zM700 118h1v1h-1zM701 117h1v2h-1zM702 117h1v1h-1zM703 118h1v1h-1zM704 117h1v1h-1zM705 117h4v2h-4zM709 117h1v1h-1zM710 117h2v2h-2zM712 117h2v1h-2zM714 117h1v2h-1zM715 117h1v3h-1zM716 117h2v2h-2zM718 117h3v1h-3zM721 118h1v1h-1zM722 117h4v2h-4zM726 117h1v1h-1zM727 117h1v2h-1zM728 118h1v1h-1zM729 117h1v2h-1zM730 117h2v1h-2zM732 118h1v1h-1zM733 117h1v2h-1zM734 117h1v1h-1zM735 118h1v1h-1zM736 117h1v1h-1zM737 117h12v2h-12zM749 117h3v1h-3zM752 117h5v2h-5zM757 117h1v1h-1zM758 117h5v2h-5zM763 117h2v1h-2zM765 118h1v1h-1zM766 117h1v1h-1zM767 118h1v1h-1zM768 117h1v2h-1zM769 117h1v1h-1zM770 118h1v1h-1z"/>
<path fill="#ff0000" d="M50 132h1v2h-1zM51 133h1v1h-1zM52 132h1v1h-1zM53 132h1v2h-1zM54 132h1v1h-1zM55 132h2v2h-2zM57 132h3v1h-3zM60 132h1v2h-1zM61 132h1v1h-1zM62 132h2v2h-2zM64 133h1v1h-1zM65 132h2v2h-2zM67 131h1v3h-1zM68 132h4v2h-4zM72 132h1v1h-1zM73 133h2v2h-2zM75 133h1v1h-1zM76 134h1v1h-1zM77 133h1v2h-1zM78 132h8v2h-8zM86 132h1v1h-1zM87 132h7v2h-7zM94 132h1v1h-1zM95 132h2v2h-2zM97 132h1v1h-1zM98 132h2v2h-2zM100 131h2v4h-2zM102 132h4v2h-4zM106 132h1v1h-1zM107 132h6v2h-6zM113 132h1v3h-1zM114 132h2v1h-2zM116 132h1v2h-1zM117 133h1v1h-1zM118 130h1v5h-1zM119 132h1v2h-1zM120 132h1v1h-1zM121 132h1v4h-1zM122 133h2v2h-2zM124 133h1v1h-1zM125 133h1v2h-1zM126 131h1v4h-1zM127 132h1v2h-1zM128 132h1v3h-1zM129 133h1v1h-1zM130 132h2v2h-2zM132 131h1v4h-1zM133 132h1v2h-1zM134 131h1v2h-1zM135 132h1v1h-1zM136 132h1v2h-1zM137 132h3v1h-3zM140 132h1v2h-1zM141 132h5v1h-5zM146 132h1v2h-1zM147 132h1v1h-1zM148 132h5v2h-5zM153 132h1v1h-1zM154 131h2v2h-2zM156 131h2v1h-2zM158 131h1v2h-1zM159 131h1v1h-1zM160 132h2v1h-2zM162 132h1v2h-1zM163 132h1v1h-1zM164 132h2v2h-2zM166 133h1v1h-1zM167 132h1v1h-1zM168 132h2v2h-2zM170 132h1v1h-1zM171 132h3v2h-3zM174 132h1v1h-1zM175 132h1v2h-1zM176 132h4v1h-4zM180 132h1v2h-1zM181 132h2v1h-2zM183 132h3v2h-3zM186 132h1v1h-1zM187 132h3v2h-3zM190 133h1v2h-1zM191 132h1v2h-1zM192 133h1v2h-1zM193 132h1v1h-1zM194 131h1v3h-1zM195 132h3v2h-3zM198 131h1v3h-1zM199 132h4v2h-4zM203 132h1v1h-1zM204 131h1v2h-1zM205 130h1v3h-1zM206 131h1v3h-1zM207 131h1v4h-1zM208 132h1v2h-1zM209 132h1v3h-1zM210 133h1v1h-1zM211 131h1v3h-1zM212 132h1v2h-1zM213 132h1v3h-1zM214 132h1v1h-1zM215 132h20v2h-20zM235 132h1v1h-1zM236 133h1v1h-1zM237 133h5v2h-5zM242 132h2v1h-2zM244 132h1v2h-1zM245 132h2v1h-2zM247 132h3v2h-3zM250 132h1v1h-1zM251 132h4v2h-4zM255 132h1v1h-1zM256 132h1v2h-1zM257 132h1v1h-1zM258 132h6v2h-6zM264 132h1v3h-1zM265 132h5v2h-5zM270 131h2v2h-2zM272 131h1v1h-1zM273 131h3v2h-3zM276 132h4v1h-4zM280 132h5v2h-5zM285 132h1v1h-1zM286 132h5v2h-5zM291 132h1v1h-1zM292 132h2v2h-2zM294 131h1v3h-1zM295 132h1v2h-1zM296 132h1v1h-1zM297 133h1v1h-1zM298 132h1v2h-1zM299 132h1v3h-1zM300 132h3v2h-3zM303 132h1v3h-1zM304 132h1v2h-1zM305 133h1v1h-1zM306 132h6v2h-6zM312 131h1v2h-1zM313 132h1v1h-1zM314 132h2v2h-2zM316 132h1v1h-1zM317 133h1v1h-1zM318 131h1v1h-1zM319 131h5v2h-5zM324 132h2v1h-2zM326 132h2v2h-2zM328 132h1v1h-1zM329 132h1v2h-1zM330 132h1v1h-1zM331 132h3v2h-3zM334 132h1v1h-1zM335 132h8v2h-8zM343 132h2v1h-2zM345 131h1v3h-1zM346 132h2v2h-2zM348 132h4v1h-4zM352 133h2v2h-2zM354 133h2v1h-2zM356 133h2v2h-2zM358 132h3v2h-3zM361 132h4v1h-4zM365 132h1v2h-1zM366 133h1v1h-1zM367 132h10v2h-10zM377 132h1v1h-1zM378 132h2v2h-2zM380 133h1v1h-1zM381 132h1v2h-1zM382 132h2v1h-2zM384 132h3v2h-3zM387 131h3v2h-3zM390 132h3v2h-3zM393 132h1v1h-1zM394 131h1v4h-1zM395 130h1v6h-1zM396 131h1v4h-1zM397 132h1v2h-1zM398 131h1v5h-1zM399 132h1v3h-1zM400 131h1v4h-1zM401 132h1v2h-1zM402 130h1v5h-1zM403 132h1v2h-1zM404 131h1v4h-1zM405 132h2v1h-2zM407 133h1v1h-1zM408 132h3v2h-3zM411 131h1v4h-1zM412 132h1v1h-1zM413 132h1v2h-1zM414 132h1v1h-1zM415 133h1v1h-1zM416 132h1v1h-1zM417 132h11v2h-11zM428 132h3v1h-3zM431 132h2v2h-2zM433 132h1v1h-1zM434 131h4v1h-4zM438 131h1v2h-1zM439 131h1v1h-1zM440 132h1v2h-1zM441 132h2v1h-2zM443 132h5v2h-5zM448 132h2v1h-2zM450 132h5v2h-5zM455 132h1v1h-1zM456 132h1v2h-1zM457 132h2v1h-2zM459 132h3v2h-3zM462 132h3v1h-3zM465 132h3v2h-3zM468 133h3v1h-3zM471 134h1v1h-1zM472 133h1v1h-1zM473 132h2v1h-2zM475 132h2v2h-2zM477 133h1v1h-1zM478 132h2v1h-2zM480 132h4v2h-4zM484 132h1v1h-1zM485 132h1v2h-1zM486 132h1v3h-1zM487 132h4v2h-4zM491 132h2v1h-2zM493 133h1v1h-1zM494 132h14v2h-14zM508 132h1v1h-1zM509 132h5v2h-5zM514 132h1v1h-1zM515 132h1v2h-1zM516 133h5v2h-5zM521 132h3v2h-3zM524 132h1v1h-1zM525 132h1v2h-1zM526 132h1v3h-1zM527 132h2v2h-2zM529 132h1v1h-1zM530 132h2v2h-2zM532 132h1v1h-1zM533 131h1v2h-1zM534 132h1v2h-1zM535 132h1v1h-1zM536 132h4v2h-4zM540 132h3v1h-3zM543 132h3v2h-3zM546 133h1v1h-1zM547 132h2v2h-2zM549 131h1v2h-1zM550 131h1v1h-1zM551 131h5v2h-5zM556 132h1v2h-1zM557 132h2v1h-2zM559 132h3v2h-3zM562 133h1v1h-1zM563 132h1v1h-1zM564 132h7v2h-7zM571 132h1v1h-1zM572 132h2v2h-2zM574 132h1v1h-1zM575 132h2v2h-2zM577 132h2v1h-2zM579 132h4v2h-4zM583 132h2v1h-2zM585 133h3v2h-3zM588 132h2v1h-2zM590 132h2v2h-2zM592 132h1v1h-1zM593 132h1v2h-1zM594 132h1v1h-1zM595 132h1v2h-1zM596 132h2v1h-2zM598 132h11v2h-11zM609 132h1v1h-1zM610 132h1v2h-1zM611 132h1v1h-1zM612 132h2v2h-2zM614 133h1v1h-1zM615 132h1v2h-1zM616 132h2v1h-2zM618 132h1v2h-1zM619 132h1v1h-1zM620 132h1v2h-1zM621 131h1v3h-1zM622 132h1v1h-1zM623 132h8v2h-8zM631 133h3v1h-3zM634 133h4v2h-4zM638 132h2v2h-2zM640 132h1v1h-1zM641 133h1v1h-1zM642 132h1v2h-1zM643 132h1v1h-1zM644 132h2v2h-2zM646 132h3v1h-3zM649 132h5v2h-5zM654 133h2v1h-2zM656 132h9v2h-9zM665 131h6v2h-6zM671 132h6v2h-6zM677 132h1v1h-1zM678 132h2v2h-2zM680 133h1v1h-1zM681 132h3v2h-3zM684 132h2v1h-2zM686 132h2v2h-2zM688 132h1v1h-1zM689 132h5v2h-5zM694 132h2v1h-2zM696 132h1v2h-1zM697 132h1v1h-1zM698 132h5v2h-5zM703 132h1v1h-1zM704 132h1v2h-1zM705 132h1v1h-1zM706 132h8v2h-8zM714 131h1v2h-1zM715 131h1v1h-1zM716 132h1v1h-1zM717 131h2v2h-2zM719 132h1v1h-1zM720 132h5v2h-5zM725 132h1v1h-1zM726 132h8v2h-8zM734 132h1v1h-1zM735 132h4v2h-4zM739 132h1v1h-1zM740 132h1v2h-1zM741 132h1v1h-1zM742 132h1v2h-1zM743 132h1v1h-1zM744 132h3v2h-3zM747 133h4v2h-4zM751 133h1v1h-1zM752 133h1v2h-1zM753 132h1v1h-1zM754 132h1v2h-1zM755 133h1v1h-1zM756 132h2v1h-2zM758 132h4v2h-4zM762 132h2v1h-2zM764 132h3v2h-3zM767 132h1v1h-1zM768 132h1v2h-1zM769 133h1v1h-1zM770 132h1v1h-1z"/>
<path fill="#0000ff" d="M50 147h1v1h-1zM51 147h2v2h-2zM53 147h1v1h-1zM54 147h1v2h-1zM55 147h3v1h-3zM58 148h1v1h-1zM59 147h3v2h-3zM62 147h1v1h-1zM63 147h1v2h-1zM64 147h2v1h-2zM66 147h4v2h-4zM70 148h1v1h-1zM71 147h4v2h-4zM75 147h1v3h-1zM76 147h1v2h-1zM77 146h1v3h-1zM78 147h4v2h-4zM82 147h1v1h-1zM83 147h3v2h-3zM86 147h2v1h-2zM88 147h1v2h-1zM89 147h2v1h-2zM91 147h5v2h-5zM96 147h3v1h-3zM99 147h3v2h-3zM102 147h1v1h-1zM103 147h1v2h-1zM104 147h1v1h-1zM105 148h1v1h-1zM106 147h1v1h-1zM107 147h13v2h-13zM120 147h1v1h-1zM121 147h2v2h-2zM123 147h4v1h-4zM127 147h8v2h-8zM135 147h2v1h-2zM137 147h4v2h-4zM141 147h2v1h-2zM143 147h1v3h-1zM144 147h2v2h-2zM146 146h1v3h-1zM147 147h2v2h-2zM149 147h2v1h-2zM151 147h3v2h-3zM154 147h2v1h-2zM156 148h1v1h-1zM157 147h3v2h-3zM160 147h2v1h-2zM162 146h1v3h-1zM163 147h2v2h-2zM165 147h1v1h-1zM166 148h1v1h-1zM167 147h4v2h-4zM171 147h1v1h-1zM172 147h3v2h-3zM175 147h1v1h-1zM176 147h8v2h-8zM184 147h1v3h-1zM185 147h1v2h-1zM186 147h2v1h-2zM188 147h16v2h-16zM204 147h1v1h-1zM205 147h1v2h-1zM206 146h1v2h-1zM207 147h2v2h-2zM209 147h1v1h-1zM210 147h1v2h-1zM211 147h2v1h-2zM213 147h1v2h-1zM214 147h1v1h-1zM215 147h8v2h-8zM223 147h1v1h-1zM224 148h1v1h-1zM225 147h23v2h-23zM248 147h2v1h-2zM250 147h5v2h-5zM255 147h1v1h-1zM256 147h7v2h-7zM263 147h1v1h-1zM264 147h3v2h-3zM267 148h1v1h-1zM268 147h2v1h-2zM270 147h3v2h-3zM273 147h1v1h-1zM274 147h2v2h-2zM276 147h1v1h-1zM277 147h1v2h-1zM278 147h1v1h-1zM279 147h2v2h-2zM281 147h1v1h-1zM282 147h4v2h-4zM286 147h2v1h-2zM288 147h1v2h-1zM289 148h1v1h-1zM290 147h1v2h-1zM291 148h1v1h-1zM292 147h1v1h-1zM293 147h8v2h-8zM301 147h1v1h-1zM302 146h1v3h-1zM303 147h4v2h-4zM307 147h1v1h-1zM308 147h2v2h-2zM310 147h4v1h-4zM314 147h2v2h-2zM316 146h1v2h-1zM317 148h1v1h-1zM318 147h2v2h-2zM320 147h1v1h-1zM321 147h4v2h-4zM325 147h3v1h-3zM328 147h1v2h-1zM329 147h1v1h-1zM330 147h4v2h-4zM334 147h1v3h-1zM335 147h1v1h-1zM336 147h1v2h-1zM337 147h1v1h-1zM338 147h1v2h-1zM339 147h1v1h-1zM340 147h9v2h-9zM349 147h1v1h-1zM350 148h1v1h-1zM351 147h2v1h-2zM353 147h3v2h-3zM356 148h2v1h-2zM358 147h1v1h-1zM359 147h8v2h-8zM367 147h1v1h-1zM368 147h3v2h-3zM371 148h1v1h-1zM372 147h2v2h-2zM374 147h1v3h-1zM375 147h3v2h-3zM378 147h2v1h-2zM380 147h1v2h-1zM381 147h1v1h-1zM382 147h1v2h-1zM383 147h2v1h-2zM385 147h4v2h-4zM389 147h4v1h-4zM393 147h9v2h-9zM402 147h1v1h-1zM403 148h1v1h-1zM404 147h4v2h-4zM408 147h1v1h-1zM409 147h2v2h-2zM411 147h1v1h-1zM412 147h2v2h-2zM414 147h2v1h-2zM416 147h4v2h-4zM420 148h1v1h-1zM421 147h1v2h-1zM422 147h3v1h-3zM425 147h4v2h-4zM429 147h1v1h-1zM430 147h1v2h-1zM431 147h1v1h-1zM432 147h2v2h-2zM434 147h3v1h-3zM437 147h5v2h-5zM442 147h1v1h-1zM443 147h1v2h-1zM444 147h1v1h-1zM445 147h3v2h-3zM448 147h1v1h-1zM449 147h9v2h-9zM458 147h1v1h-1zM459 147h4v2h-4zM463 147h1v1h-1zM464 147h3v2h-3zM467 147h2v1h-2zM469 147h6v2h-6zM475 147h1v3h-1zM476 147h8v2h-8zM484 147h1v1h-1zM485 147h2v2h-2zM487 147h2v1h-2zM489 147h1v2h-1zM490 147h3v1h-3zM493 147h7v2h-7zM500 147h2v1h-2zM502 147h7v2h-7zM509 147h2v1h-2zM511 148h1v1h-1zM512 147h10v2h-10zM522 147h1v1h-1zM523 147h4v2h-4zM527 148h1v1h-1zM528 147h1v1h-1zM529 147h8v2h-8zM537 147h1v1h-1zM538 147h1v2h-1zM539 147h1v1h-1zM540 147h2v2h-2zM542 147h2v1h-2zM544 147h1v2h-1zM545 147h1v1h-1zM546 147h1v2h-1zM547 147h1v1h-1zM548 147h3v2h-3zM551 147h3v1h-3zM554 147h2v2h-2zM556 147h1v1h-1zM557 146h1v3h-1zM558 147h1v2h-1zM559 147h2v1h-2zM561 147h2v2h-2zM563 147h1v1h-1zM564 147h1v2h-1zM565 147h1v1h-1zM566 147h5v2h-5zM571 147h1v1h-1zM572 147h3v2h-3zM575 147h3v1h-3zM578 147h6v2h-6zM584 147h2v1h-2zM586 147h2v2h-2zM588 147h3v1h-3zM591 147h1v2h-1zM592 147h1v1h-1zM593 147h8v2h-8zM601 147h1v1h-1zM602 146h1v3h-1zM603 147h2v1h-2zM605 147h1v2h-1zM606 147h2v1h-2zM608 147h8v2h-8zM616 147h1v1h-1zM617 147h1v2h-1zM618 147h1v1h-1zM619 147h1v2h-1zM620 147h2v1h-2zM622 147h2v2h-2zM624 147h1v1h-1zM625 147h1v2h-1zM626 147h1v1h-1zM627 147h11v2h-11zM638 147h4v1h-4zM642 147h5v2h-5zM647 148h1v1h-1zM648 147h1v1h-1zM649 147h6v2h-6zM655 147h2v1h-2zM657 147h1v2h-1zM658 147h2v1h-2zM660 147h1v2h-1zM661 147h1v3h-1zM662 147h2v2h-2zM664 147h1v1h-1zM665 147h10v2h-10zM675 147h3v1h-3zM678 147h2v2h-2zM680 147h1v1h-1zM681 147h11v2h-11zM692 147h1v1h-1zM693 147h1v2h-1zM694 146h1v3h-1zM695 147h3v2h-3zM698 147h1v1h-1zM699 146h1v3h-1zM700 147h1v1h-1zM701 147h4v2h-4zM705 147h2v1h-2zM707 147h6v2h-6zM713 147h2v1h-2zM715 147h4v2h-4zM719 147h1v1h-1zM720 147h1v2h-1zM721 147h2v1h-2zM723 147h4v2h-4zM727 147h1v1h-1zM728 147h6v2h-6zM734 147h1v1h-1zM735 147h5v2h-5zM740 146h1v3h-1zM741 147h4v2h-4zM745 147h1v1h-1zM746 146h1v2h-1zM747 147h3v2h-3zM750 147h1v1h-1zM751 147h2v2h-2zM753 147h1v1h-1zM754 147h1v2h-1zM755 147h2v1h-2zM757 147h1v2h-1zM758 146h1v3h-1zM759 147h1v1h-1zM760 147h1v2h-1zM761 146h1v3h-1zM762 147h1v2h-1zM763 147h1v1h-1zM764 147h4v2h-4zM768 147h1v1h-1zM769 147h2v2h-2z"/>
<path fill="#006400" d="M50 162h1v2h-1zM51 162h2v1h-2zM53 162h12v2h-12zM65 162h2v1h-2zM67 162h1v2h-1zM68 162h4v1h-4zM72 162h1v2h-1zM73 162h1v1h-1zM74 162h4v2h-4zM78 162h1v1h-1zM79 162h7v2h-7zM86 162h1v1h-1zM87 162h1v3h-1zM88 162h1v2h-1zM89 162h1v1h-1zM90 162h15v2h-15zM105 162h1v1h-1zM106 162h2v2h-2zM108 162h1v1h-1zM109 162h2v2h-2zM111 162h1v1h-1zM112 162h3v2h-3zM115 163h1v1h-1zM116 162h5v2h-5zM121 162h9v1h-9zM130 162h2v2h-2zM132 162h3v1h-3zM135 162h2v2h-2zM137 162h1v1h-1zM138 162h2v2h-2zM140 161h1v3h-1zM141 162h1v2h-1zM142 162h1v1h-1zM143 162h2v2h-2zM145 162h1v1h-1zM146 162h14v2h-14zM160 162h3v1h-3zM163 162h2v2h-2zM165 162h1v3h-1zM166 162h8v2h-8zM174 162h1v1h-1zM175 162h4v2h-4zM179 162h2v1h-2zM181 162h5v2h-5zM186 162h2v1h-2zM188 162h4v2h-4zM192 162h1v1h-1zM193 162h2v2h-2zM195 162h1v1h-1zM196 163h1v1h-1zM197 162h4v2h-4zM201 162h1v1h-1zM202 162h5v2h-5zM207 162h1v1h-1zM208 162h12v2h-12zM220 162h2v1h-2zM222 162h3v2h-3zM225 162h1v1h-1zM226 162h2v2h-2zM228 162h1v1h-1zM229 161h1v3h-1zM230 162h15v2h-15zM245 162h2v1h-2zM247 162h4v2h-4zM251 162h1v1h-1zM252 162h1v2h-1zM253 162h1v1h-1zM254 162h4v2h-4zM258 161h1v3h-1zM259 162h2v2h-2zM261 162h1v1h-1zM262 162h7v2h-7zM269 162h1v1h-1zM270 162h2v2h-2zM272 162h1v1h-1zM273 162h3v2h-3zM276 162h1v1h-1zM277 162h1v2h-1zM278 161h1v3h-1zM279 162h1v1h-1zM280 162h2v2h-2zM282 162h5v1h-5zM287 162h3v2h-3zM290 162h1v3h-1zM291 162h1v2h-1zM292 162h1v1h-1zM293 162h3v2h-3zM296 162h3v1h-3zM299 162h1v2h-1zM300 162h1v1h-1zM301 162h5v2h-5zM306 162h1v1h-1zM307 162h1v2h-1zM308 162h2v1h-2zM310 162h5v2h-5zM315 162h1v3h-1zM316 162h1v1h-1zM317 162h2v2h-2zM319 162h1v1h-1zM320 162h7v2h-7zM327 162h1v1h-1zM328 162h12v2h-12zM340 162h1v1h-1zM341 162h2v2h-2zM343 163h1v1h-1zM344 162h1v1h-1zM345 162h2v2h-2zM347 162h1v3h-1zM348 162h1v1h-1zM349 162h1v2h-1zM350 162h1v3h-1zM351 161h1v3h-1zM352 162h8v2h-8zM360 162h1v1h-1zM361 162h6v2h-6zM367 162h3v1h-3zM370 162h1v2h-1zM371 162h2v1h-2zM373 163h1v1h-1zM374 162h3v2h-3zM377 162h1v1h-1zM378 162h4v2h-4zM382 162h1v1h-1zM383 162h3v2h-3zM386 162h1v1h-1zM387 162h6v2h-6zM393 162h3v1h-3zM396 162h25v2h-25zM421 162h1v1h-1zM422 163h1v1h-1zM423 162h1v2h-1zM424 162h1v1h-1zM425 162h4v2h-4zM429 162h1v1h-1zM430 162h1v2h-1zM431 162h1v1h-1zM432 162h1v2h-1zM433 162h1v1h-1zM434 162h1v2h-1zM435 162h1v1h-1zM436 162h1v2h-1zM437 162h1v1h-1zM438 162h3v2h-3zM441 163h1v1h-1zM442 162h1v1h-1zM443 162h2v2h-2zM445 161h1v3h-1zM446 162h6v2h-6zM452 163h1v1h-1zM453 162h1v1h-1zM454 162h3v2h-3zM457 163h2v1h-2zM459 162h1v1h-1zM460 162h7v2h-7zM467 162h1v1h-1zM468 162h3v2h-3zM471 162h1v1h-1zM472 162h3v2h-3zM475 162h1v1h-1zM476 162h2v2h-2zM478 162h2v1h-2zM480 162h4v2h-4zM484 162h2v1h-2zM486 162h5v2h-5zM491 162h1v1h-1zM492 162h2v2h-2zM494 162h1v1h-1zM495 162h6v2h-6zM501 162h2v1h-2zM503 162h2v2h-2zM505 162h5v1h-5zM510 162h6v2h-6zM516 162h1v1h-1zM517 162h3v2h-3zM520 162h1v1h-1zM521 162h3v2h-3zM524 162h1v1h-1zM525 162h1v2h-1zM526 162h2v1h-2zM528 162h7v2h-7zM535 161h1v3h-1zM536 162h3v2h-3zM539 161h1v3h-1zM540 162h2v1h-2zM542 161h3v2h-3zM545 162h1v1h-1zM546 161h3v2h-3zM549 162h1v1h-1zM550 162h1v2h-1zM551 162h1v1h-1zM552 162h1v2h-1zM553 162h2v1h-2zM555 162h1v2h-1zM556 161h1v3h-1zM557 162h3v2h-3zM560 162h1v1h-1zM561 162h3v2h-3zM564 163h3v2h-3zM567 163h1v1h-1zM568 162h1v2h-1zM569 162h1v1h-1zM570 162h3v2h-3zM573 161h6v2h-6zM579 162h2v1h-2zM581 162h3v2h-3zM584 162h1v1h-1zM585 163h1v1h-1zM586 162h4v2h-4zM590 162h1v1h-1zM591 162h2v2h-2zM593 163h1v1h-1zM594 163h2v2h-2zM596 164h1v1h-1zM597 163h3v2h-3zM600 162h8v2h-8zM608 162h2v1h-2zM610 162h2v2h-2zM612 162h1v1h-1zM613 162h1v2h-1zM614 161h1v2h-1zM615 161h1v1h-1zM616 161h1v2h-1zM617 161h1v1h-1zM618 161h2v2h-2zM620 162h5v2h-5zM625 163h3v2h-3zM628 163h1v1h-1zM629 162h3v2h-3zM632 162h1v1h-1zM633 162h2v2h-2zM635 163h1v1h-1zM636 162h5v2h-5zM641 162h3v1h-3zM644 160h1v3h-1zM645 161h2v1h-2zM647 161h2v2h-2zM649 161h2v1h-2zM651 162h1v1h-1zM652 162h10v2h-10zM662 161h1v3h-1zM663 162h2v1h-2zM665 163h6v2h-6zM671 162h2v1h-2zM673 162h3v2h-3zM676 161h1v3h-1zM677 161h1v2h-1zM678 162h1v1h-1zM679 162h1v2h-1zM680 162h2v1h-2zM682 162h2v2h-2zM684 162h2v1h-2zM686 162h2v2h-2zM688 162h2v1h-2zM690 162h4v2h-4zM694 162h1v1h-1zM695 164h1v1h-1zM696 163h2v2h-2zM698 163h2v1h-2zM700 163h2v2h-2zM702 162h1v1h-1zM703 162h7v2h-7zM710 162h1v3h-1zM711 162h1v2h-1zM712 162h1v3h-1zM713 162h1v2h-1zM714 162h1v3h-1zM715 162h1v2h-1zM716 161h5v2h-5zM721 161h1v1h-1zM722 162h8v2h-8zM730 162h2v1h-2zM732 162h6v2h-6zM738 163h2v2h-2zM740 163h1v1h-1zM741 162h1v1h-1zM742 162h3v2h-3zM745 162h1v1h-1zM746 162h1v2h-1zM747 161h4v2h-4zM751 161h1v1h-1zM752 162h1v1h-1zM753 162h3v2h-3zM756 162h3v1h-3zM759 163h1v1h-1zM760 162h3v2h-3zM763 162h3v1h-3zM766 162h1v2h-1zM767 163h2v2h-2zM769 163h2v1h-2z"/>
<path fill="#000000" d="M50 177h1v2h-1zM51 177h1v1h-1zM52 177h1v2h-1zM53 177h1v1h-1zM54 177h1v2h-1zM55 177h1v1h-1zM56 178h1v1h-1zM57 177h1v1h-1zM58 177h1v2h-1zM59 177h2v1h-2zM61 177h3v2h-3zM64 177h4v1h-4zM68 176h1v2h-1zM69 177h5v1h-5zM74 177h1v2h-1zM75 177h1v1h-1zM76 177h3v2h-3zM79 178h1v1h-1zM80 177h1v2h-1zM81 177h1v1h-1zM82 177h3v2h-3zM85 178h1v1h-1zM86 177h5v2h-5zM91 177h1v1h-1zM92 177h3v2h-3zM95 177h1v1h-1zM96 177h1v2h-1zM97 177h2v1h-2zM99 177h3v2h-3zM102 177h2v1h-2zM104 177h2v2h-2zM106 177h3v1h-3zM109 177h2v2h-2zM111 177h4v1h-4zM115 177h1v2h-1zM116 177h1v1h-1zM117 177h1v2h-1zM118 177h1v1h-1zM119 177h1v2h-1zM120 177h2v1h-2zM122 177h2v2h-2zM124 178h1v1h-1zM125 177h3v2h-3zM128 177h2v1h-2zM130 177h2v2h-2zM132 177h2v1h-2zM134 177h1v2h-1zM135 177h1v1h-1zM136 177h2v2h-2zM138 178h1v1h-1zM139 177h1v2h-1zM140 178h1v1h-1zM141 177h5v2h-5zM146 177h1v1h-1zM147 177h2v2h-2zM149 177h2v1h-2zM151 177h2v2h-2zM153 177h2v1h-2zM155 177h2v2h-2zM157 177h2v1h-2zM159 177h2v2h-2zM161 177h2v1h-2zM163 177h3v2h-3zM166 177h1v1h-1zM167 177h3v2h-3zM170 177h2v1h-2zM172 177h5v2h-5zM177 177h2v1h-2zM179 177h3v2h-3zM182 177h2v1h-2zM184 177h2v2h-2zM186 178h1v1h-1zM187 177h2v2h-2zM189 177h1v1h-1zM190 177h1v2h-1zM191 177h2v1h-2zM193 178h1v1h-1zM194 177h3v2h-3zM197 177h2v1h-2zM199 177h1v2h-1zM200 177h2v1h-2zM202 177h2v2h-2zM204 177h4v1h-4zM208 177h5v2h-5zM213 177h1v1h-1zM214 177h2v2h-2zM216 177h3v1h-3zM219 178h1v1h-1zM220 177h8v2h-8zM228 177h1v1h-1zM229 177h2v2h-2zM231 177h3v1h-3zM234 177h2v2h-2zM236 177h4v1h-4zM240 177h3v2h-3zM243 177h1v1h-1zM244 177h2v2h-2zM246 177h1v1h-1zM247 177h2v2h-2zM249 177h1v1h-1zM250 177h1v2h-1zM251 177h4v1h-4zM255 177h1v2h-1zM256 177h2v1h-2zM258 177h1v2h-1zM259 177h3v1h-3zM262 177h1v2h-1zM263 177h1v1h-1zM264 178h1v1h-1zM265 177h2v1h-2zM267 178h1v1h-1zM268 177h2v1h-2zM270 177h1v2h-1zM271 177h1v1h-1zM272 177h1v3h-1zM273 177h3v2h-3zM276 177h2v1h-2zM278 177h4v2h-4zM282 177h4v1h-4zM286 177h2v2h-2zM288 177h1v1h-1zM289 177h1v2h-1zM290 177h3v1h-3zM293 177h1v2h-1zM294 177h1v1h-1zM295 177h4v2h-4zM299 178h1v1h-1zM300 177h3v2h-3zM303 177h3v1h-3zM306 177h6v2h-6zM312 177h1v1h-1zM313 177h2v2h-2zM315 178h1v1h-1zM316 177h4v1h-4zM320 177h1v2h-1zM321 177h1v3h-1zM322 177h1v2h-1zM323 177h1v1h-1zM324 177h2v2h-2zM326 177h1v1h-1zM327 178h1v1h-1zM328 177h1v1h-1zM329 177h3v2h-3zM332 177h2v1h-2zM334 177h1v2h-1zM335 178h1v1h-1zM336 177h1v1h-1zM337 178h1v1h-1zM338 177h3v2h-3zM341 177h1v1h-1zM342 178h1v1h-1zM343 177h1v2h-1zM344 177h1v1h-1zM345 177h2v2h-2zM347 176h1v2h-1zM348 177h6v1h-6zM354 177h2v2h-2zM356 177h1v1h-1zM357 177h1v2h-1zM358 177h1v1h-1zM359 177h1v2h-1zM360 177h1v3h-1zM361 177h1v1h-1zM362 177h4v2h-4zM366 177h1v1h-1zM367 177h3v2h-3zM370 177h2v1h-2zM372 177h2v2h-2zM374 177h1v1h-1zM375 177h1v2h-1zM376 178h1v1h-1zM377 177h1v1h-1zM378 177h2v2h-2zM380 177h2v1h-2zM382 178h1v1h-1zM383 177h6v2h-6zM389 177h1v1h-1zM390 177h4v2h-4zM394 177h1v1h-1zM395 177h2v2h-2zM397 177h3v1h-3zM400 177h1v2h-1zM401 177h1v1h-1zM402 176h1v2h-1zM403 177h2v1h-2zM405 177h1v2h-1zM406 178h1v1h-1zM407 177h2v1h-2zM409 177h4v2h-4zM413 177h3v1h-3zM416 177h3v2h-3zM419 177h1v1h-1zM420 177h1v2h-1zM421 177h1v1h-1zM422 177h7v2h-7zM429 177h2v1h-2zM431 177h1v2h-1zM432 177h4v1h-4zM436 177h9v2h-9zM445 177h1v1h-1zM446 177h6v2h-6zM452 177h1v1h-1zM453 177h1v2h-1zM454 177h1v1h-1zM455 177h2v2h-2zM457 177h2v1h-2zM459 177h2v2h-2zM461 177h1v1h-1zM462 178h1v1h-1zM463 177h4v1h-4zM467 177h3v2h-3zM470 177h1v1h-1zM471 177h6v2h-6zM477 177h2v1h-2zM479 177h4v2h-4zM483 177h3v1h-3zM486 178h1v1h-1zM487 177h2v1h-2zM489 177h2v2h-2zM491 178h1v1h-1zM492 177h2v2h-2zM494 178h1v1h-1zM495 177h2v1h-2zM497 177h1v2h-1zM498 178h1v1h-1zM499 177h2v2h-2zM501 177h6v1h-6zM507 177h1v2h-1zM508 178h1v1h-1zM509 177h1v1h-1zM510 177h2v2h-2zM512 177h1v1h-1zM513 177h1v2h-1zM514 177h1v1h-1zM515 177h1v2h-1zM516 177h2v1h-2zM518 177h3v2h-3zM521 177h1v1h-1zM522 177h1v2h-1zM523 178h1v1h-1zM524 177h2v2h-2zM526 177h1v1h-1zM527 177h1v2h-1zM528 177h3v1h-3zM531 178h1v1h-1zM532 177h1v2h-1zM533 177h8v1h-8zM541 177h6v2h-6zM547 177h1v3h-1zM548 177h3v1h-3zM551 177h1v2h-1zM552 177h2v1h-2zM554 177h3v2h-3zM557 177h3v1h-3zM560 177h2v2h-2zM562 177h3v1h-3zM565 177h4v2h-4zM569 177h1v1h-1zM570 178h1v1h-1zM571 177h1v1h-1zM572 177h6v2h-6zM578 177h2v1h-2zM580 177h2v2h-2zM582 177h2v1h-2zM584 176h1v3h-1zM585 177h1v1h-1zM586 177h1v2h-1zM587 178h1v1h-1zM588 177h1v1h-1zM589 177h2v2h-2zM591 177h1v1h-1zM592 177h1v2h-1zM593 177h1v1h-1zM594 177h1v3h-1zM595 178h1v1h-1zM596 177h1v2h-1zM597 177h1v1h-1zM598 178h1v1h-1zM599 177h1v2h-1zM600 177h1v1h-1zM601 177h2v2h-2zM603 176h1v3h-1zM604 177h1v1h-1zM605 177h1v2h-1zM606 177h1v1h-1zM607 177h3v2h-3zM610 177h1v1h-1zM611 177h1v2h-1zM612 177h1v1h-1zM613 177h4v2h-4zM617 177h1v1h-1zM618 177h1v2h-1zM619 178h1v1h-1zM620 177h11v2h-11zM631 177h1v1h-1zM632 177h4v2h-4zM636 177h1v1h-1zM637 176h1v2h-1zM638 178h1v1h-1zM639 177h3v1h-3zM642 177h3v2h-3zM645 176h1v3h-1zM646 177h2v1h-2zM648 177h1v2h-1zM649 178h1v1h-1zM650 177h3v2h-3zM653 176h1v2h-1zM654 177h1v1h-1zM655 177h1v3h-1zM656 177h2v1h-2zM658 177h2v2h-2zM660 177h3v1h-3zM663 177h3v2h-3zM666 177h4v1h-4zM670 177h2v2h-2zM672 177h1v1h-1zM673 177h5v2h-5zM678 177h1v1h-1zM679 177h1v3h-1zM680 177h1v1h-1zM681 177h1v2h-1zM682 176h1v2h-1zM683 177h2v1h-2zM685 177h1v2h-1zM686 177h1v1h-1zM687 177h1v2h-1zM688 178h1v1h-1zM689 177h1v2h-1zM690 177h2v1h-2zM692 177h3v2h-3zM695 177h1v1h-1zM696 177h1v2h-1zM697 177h2v1h-2zM699 177h1v2h-1zM700 177h1v1h-1zM701 177h1v2h-1zM702 177h2v1h-2zM704 178h1v1h-1zM705 177h12v2h-12zM717 177h2v1h-2zM719 177h1v2h-1zM720 177h2v1h-2zM722 177h6v2h-6zM728 177h2v1h-2zM730 177h2v2h-2zM732 178h1v1h-1zM733 177h1v1h-1zM734 177h3v2h-3zM737 177h1v1h-1zM738 177h8v2h-8zM746 177h3v1h-3zM749 177h1v2h-1zM750 177h7v1h-7zM757 177h1v2h-1zM758 177h2v1h-2zM760 177h8v2h-8zM768 178h2v1h-2zM770 177h1v1h-1z"/>
<path fill="#ff0000" d="M50 192h3v2h-3zM53 192h1v1h-1zM54 192h2v2h-2zM56 192h1v1h-1zM57 192h1v2h-1zM58 193h1v1h-1zM59 192h3v2h-3zM62 192h2v1h-2zM64 192h1v2h-1zM65 192h1v1h-1zM66 192h2v2h-2zM68 192h1v3h-1zM69 192h4v2h-4zM73 193h1v1h-1zM74 192h4v2h-4zM78 192h1v1h-1zM79 192h1v2h-1zM80 192h1v1h-1zM81 192h1v2h-1zM82 192h2v1h-2zM84 192h1v2h-1zM85 192h1v1h-1zM86 192h3v2h-3zM89 192h1v1h-1zM90 193h1v1h-1zM91 192h1v2h-1zM92 192h1v3h-1zM93 192h6v2h-6zM99 192h1v1h-1zM100 192h5v2h-5zM105 192h1v1h-1zM106 193h1v1h-1zM107 192h4v2h-4zM111 192h3v1h-3zM114 192h1v2h-1zM115 193h1v1h-1zM116 192h1v1h-1zM117 192h4v2h-4zM121 192h1v1h-1zM122 192h2v2h-2zM124 193h1v1h-1zM125 192h2v1h-2zM127 192h2v2h-2zM129 193h1v1h-1zM130 192h7v2h-7zM137 192h1v1h-1zM138 192h9v2h-9zM147 192h1v1h-1zM148 192h1v2h-1zM149 192h1v1h-1zM150 192h2v2h-2zM152 192h1v1h-1zM153 192h5v2h-5zM158 192h1v1h-1zM159 192h1v2h-1zM160 192h2v1h-2zM162 193h1v1h-1zM163 192h1v1h-1zM164 192h1v2h-1zM165 192h3v1h-3zM168 192h4v2h-4zM172 192h1v1h-1zM173 192h4v2h-4zM177 192h1v1h-1zM178 192h7v2h-7zM185 192h1v1h-1zM186 191h1v3h-1zM187 192h2v1h-2zM189 192h2v2h-2zM191 193h1v1h-1zM192 192h3v2h-3zM195 192h1v1h-1zM196 192h7v2h-7zM203 192h1v1h-1zM204 192h4v2h-4zM208 192h4v1h-4zM212 192h1v2h-1zM213 192h2v1h-2zM215 192h3v2h-3zM218 192h1v1h-1zM219 193h1v1h-1zM220 192h2v2h-2zM222 192h1v1h-1zM223 193h1v1h-1zM224 192h1v1h-1zM225 192h1v2h-1zM226 192h3v1h-3zM229 192h9v2h-9zM238 192h1v1h-1zM239 192h4v2h-4zM243 192h6v1h-6zM249 192h1v2h-1zM250 192h2v1h-2zM252 192h8v2h-8zM260 192h1v3h-1zM261 192h4v2h-4zM265 192h2v1h-2zM267 192h1v2h-1zM268 192h1v1h-1zM269 192h2v2h-2zM271 193h1v1h-1zM272 192h1v1h-1zM273 192h4v2h-4zM277 193h2v1h-2zM279 192h5v2h-5zM284 192h1v1h-1zM285 192h4v2h-4zM289 192h3v1h-3zM292 192h7v2h-7zM299 192h1v3h-1zM300 192h3v2h-3zM303 192h1v1h-1zM304 193h1v1h-1zM305 192h1v1h-1zM306 192h6v2h-6zM312 192h1v3h-1zM313 192h2v2h-2zM315 192h1v1h-1zM316 192h9v2h-9zM325 193h1v1h-1zM326 192h1v1h-1zM327 192h4v2h-4zM331 192h1v1h-1zM332 192h1v2h-1zM333 192h1v1h-1zM334 192h2v2h-2zM336 192h1v3h-1zM337 192h3v2h-3zM340 192h1v1h-1zM341 193h2v1h-2zM343 192h6v2h-6zM349 192h1v1h-1zM350 193h1v1h-1zM351 192h3v2h-3zM354 193h2v1h-2zM356 192h1v2h-1zM357 192h1v1h-1zM358 192h4v2h-4zM362 192h1v3h-1zM363 192h4v2h-4zM367 193h1v1h-1zM368 192h2v1h-2zM370 192h3v2h-3zM373 192h2v1h-2zM375 192h4v2h-4zM379 192h3v1h-3zM382 192h5v2h-5zM387 192h2v1h-2zM389 192h10v2h-10zM399 192h2v1h-2zM401 192h9v2h-9zM410 192h1v1h-1zM411 192h6v2h-6zM417 192h1v1h-1zM418 192h1v2h-1zM419 192h1v1h-1zM420 192h1v2h-1zM421 192h1v1h-1zM422 192h1v2h-1zM423 192h2v1h-2zM425 192h3v2h-3zM428 191h1v3h-1zM429 192h1v1h-1zM430 192h4v2h-4zM434 192h1v1h-1zM435 192h4v2h-4zM439 192h2v1h-2zM441 192h2v2h-2zM443 192h4v1h-4zM447 192h7v2h-7zM454 192h1v1h-1zM455 192h5v2h-5zM460 191h1v2h-1zM461 192h1v1h-1zM462 192h2v2h-2zM464 192h1v1h-1zM465 192h2v2h-2zM467 192h4v1h-4zM471 192h6v2h-6zM477 192h1v1h-1zM478 193h1v1h-1zM479 192h6v2h-6zM485 192h1v1h-1zM486 192h2v2h-2zM488 192h2v1h-2zM490 192h2v2h-2zM492 192h1v1h-1zM493 192h1v2h-1zM494 192h3v1h-3zM497 192h7v2h-7zM504 192h2v1h-2zM506 192h5v2h-5zM511 193h1v1h-1zM512 192h4v2h-4zM516 192h1v1h-1zM517 192h4v2h-4zM521 192h1v1h-1zM522 192h2v2h-2zM524 192h3v1h-3zM527 192h3v2h-3zM530 193h1v1h-1zM531 192h3v1h-3zM534 192h2v2h-2zM536 192h1v1h-1zM537 192h2v2h-2zM539 192h1v1h-1zM540 192h2v2h-2zM542 192h5v1h-5zM547 192h10v2h-10zM557 192h1v3h-1zM558 192h3v2h-3zM561 192h1v1h-1zM562 192h8v2h-8zM570 192h1v1h-1zM571 192h1v2h-1zM572 192h1v1h-1zM573 192h2v2h-2zM575 192h3v1h-3zM578 192h1v2h-1zM579 192h4v1h-4zM583 192h6v2h-6zM589 193h1v1h-1zM590 192h3v2h-3zM593 192h2v1h-2zM595 192h9v2h-9zM604 192h1v1h-1zM605 192h4v2h-4zM609 192h3v1h-3zM612 192h4v2h-4zM616 192h1v1h-1zM617 192h8v2h-8zM625 192h1v1h-1zM626 192h3v2h-3zM629 192h5v1h-5zM634 192h8v2h-8zM642 193h1v1h-1zM643 192h1v2h-1zM644 192h1v1h-1zM645 192h1v2h-1zM646 192h1v3h-1zM647 192h7v2h-7zM654 192h2v1h-2zM656 192h4v2h-4zM660 192h1v1h-1zM661 192h3v2h-3zM664 193h1v1h-1zM665 192h1v2h-1zM666 192h1v1h-1zM667 192h2v2h-2zM669 193h2v1h-2zM671 192h10v2h-10zM681 192h1v1h-1zM682 192h7v2h-7zM689 192h2v1h-2zM691 192h21v2h-21zM712 192h1v3h-1zM713 192h18v2h-18zM731 192h1v1h-1zM732 191h1v3h-1zM733 192h3v2h-3zM736 192h1v1h-1zM737 192h28v2h-28zM765 192h1v1h-1zM766 192h3v2h-3zM769 192h1v1h-1zM770 193h1v1h-1z"/>
<path fill="#0000ff" d="M50 207h4v2h-4zM54 208h1v1h-1zM55 207h2v2h-2zM57 207h2v1h-2zM59 207h1v2h-1zM60 208h1v1h-1zM61 207h4v2h-4zM65 208h1v1h-1zM66 207h2v2h-2zM68 207h2v1h-2zM70 207h1v2h-1zM71 208h1v1h-1zM72 207h2v2h-2zM74 207h1v1h-1zM75 207h1v2h-1zM76 208h2v1h-2zM78 207h1v1h-1zM79 207h7v2h-7zM86 208h1v1h-1zM87 207h5v2h-5zM92 206h1v2h-1zM93 207h1v2h-1zM94 207h4v1h-4zM98 207h2v2h-2zM100 207h1v1h-1zM101 207h3v2h-3zM104 207h1v1h-1zM105 207h4v2h-4zM109 208h1v1h-1zM110 207h1v2h-1zM111 207h4v1h-4zM115 207h1v2h-1zM116 207h1v1h-1zM117 207h1v2h-1zM118 207h1v1h-1zM119 207h1v2h-1zM120 208h1v1h-1zM121 207h1v2h-1zM122 208h1v1h-1zM123 207h1v2h-1zM124 207h1v1h-1zM125 207h3v2h-3zM128 207h1v1h-1zM129 207h1v2h-1zM130 207h3v1h-3zM133 207h3v2h-3zM136 208h1v1h-1zM137 207h8v2h-8zM145 207h1v1h-1zM146 207h1v2h-1zM147 208h1v1h-1zM148 207h2v2h-2zM150 207h6v1h-6zM156 208h1v1h-1zM157 207h9v2h-9zM166 207h1v1h-1zM167 207h5v2h-5zM172 207h1v1h-1zM173 207h1v2h-1zM174 207h1v3h-1zM175 207h4v2h-4zM179 207h1v1h-1zM180 207h7v2h-7zM187 206h1v4h-1zM188 207h10v2h-10zM198 207h1v3h-1zM199 207h3v2h-3zM202 207h2v1h-2zM204 207h8v2h-8zM212 207h3v1h-3zM215 207h1v2h-1zM216 207h1v1h-1zM217 207h5v2h-5zM222 207h3v1h-3zM225 207h2v2h-2zM227 207h1v1h-1zM228 207h6v2h-6zM234 207h1v1h-1zM235 207h3v2h-3zM238 207h1v1h-1zM239 207h5v2h-5zM244 207h1v1h-1zM245 207h5v2h-5zM250 207h1v1h-1zM251 207h1v2h-1zM252 207h1v1h-1zM253 207h2v2h-2zM255 207h2v1h-2zM257 207h1v2h-1zM258 207h2v1h-2zM260 207h10v2h-10zM270 207h1v1h-1zM271 207h1v2h-1zM272 207h1v1h-1zM273 207h4v2h-4zM277 207h2v1h-2zM279 207h4v2h-4zM283 208h1v1h-1zM284 207h1v1h-1zM285 207h1v2h-1zM286 207h1v1h-1zM287 207h2v2h-2zM289 208h1v1h-1zM290 207h3v1h-3zM293 207h1v2h-1zM294 207h1v1h-1zM295 207h8v2h-8zM303 207h1v3h-1zM304 207h9v2h-9zM313 207h1v1h-1zM314 207h10v2h-10zM324 207h1v1h-1zM325 207h4v2h-4zM329 207h3v1h-3zM332 207h5v2h-5zM337 207h3v1h-3zM340 207h4v2h-4zM344 208h1v1h-1zM345 207h1v3h-1zM346 207h15v2h-15zM361 207h1v1h-1zM362 207h1v3h-1zM363 207h1v1h-1zM364 207h1v2h-1zM365 207h2v1h-2zM367 207h2v2h-2zM369 207h2v1h-2zM371 207h3v2h-3zM374 206h1v3h-1zM375 207h8v2h-8zM383 207h5v1h-5zM388 207h8v2h-8zM396 207h1v1h-1zM397 207h2v2h-2zM399 207h2v1h-2zM401 207h6v2h-6zM407 208h1v1h-1zM408 207h1v1h-1zM409 207h8v2h-8zM417 207h1v1h-1zM418 207h2v2h-2zM420 207h2v1h-2zM422 207h3v2h-3zM425 207h3v1h-3zM428 208h1v1h-1zM429 207h4v2h-4zM433 207h2v1h-2zM435 207h2v2h-2zM437 207h1v1h-1zM438 207h2v2h-2zM440 207h1v1h-1zM441 207h1v2h-1zM442 207h3v1h-3zM445 207h6v2h-6zM451 207h1v1h-1zM452 207h2v2h-2zM454 207h2v1h-2zM456 207h1v2h-1zM457 207h3v1h-3zM460 208h1v1h-1zM461 207h2v1h-2zM463 207h2v2h-2zM465 207h2v1h-2zM467 207h2v2h-2zM469 207h1v1h-1zM470 207h2v2h-2zM472 207h2v1h-2zM474 207h2v2h-2zM476 207h1v1h-1zM477 207h6v2h-6zM483 207h1v3h-1zM484 207h2v1h-2zM486 207h4v2h-4zM490 207h1v1h-1zM491 207h1v2h-1zM492 207h1v1h-1zM493 207h1v2h-1zM494 207h2v1h-2zM496 207h3v2h-3zM499 207h3v1h-3zM502 207h2v2h-2zM504 208h1v1h-1zM505 207h9v2h-9zM514 207h2v1h-2zM516 207h1v2h-1zM517 207h1v1h-1zM518 207h1v2h-1zM519 207h1v1h-1zM520 207h3v2h-3zM523 207h3v1h-3zM526 208h1v1h-1zM527 207h7v2h-7zM534 207h1v1h-1zM535 207h2v2h-2zM537 206h1v3h-1zM538 207h3v2h-3zM541 208h1v1h-1zM542 207h5v2h-5zM547 207h2v1h-2zM549 207h4v2h-4zM553 207h1v1h-1zM554 207h1v2h-1zM555 207h3v1h-3zM558 207h7v2h-7zM565 207h1v1h-1zM566 207h1v2h-1zM567 207h2v1h-2zM569 207h4v2h-4zM573 207h1v1h-1zM574 207h1v2h-1zM575 207h1v1h-1zM576 207h4v2h-4zM580 207h1v1h-1zM581 208h1v1h-1zM582 207h7v2h-7zM589 207h2v1h-2zM591 208h1v1h-1zM592 207h1v2h-1zM593 207h1v1h-1zM594 207h8v2h-8zM602 207h3v1h-3zM605 208h1v1h-1zM606 207h4v2h-4zM610 207h2v1h-2zM612 207h6v2h-6zM618 207h1v1h-1zM619 207h2v2h-2zM621 208h1v1h-1zM622 207h1v1h-1zM623 207h12v2h-12zM635 207h3v1h-3zM638 207h9v2h-9zM647 207h1v1h-1zM648 207h2v2h-2zM650 207h1v1h-1zM651 207h2v2h-2zM653 207h3v1h-3zM656 207h8v2h-8zM664 207h1v1h-1zM665 207h1v2h-1zM666 208h1v1h-1zM667 207h1v2h-1zM668 207h2v1h-2zM670 207h4v2h-4zM674 207h1v1h-1zM675 207h2v2h-2zM677 207h1v1h-1zM678 207h1v2h-1zM679 207h1v1h-1zM680 208h1v1h-1zM681 207h3v2h-3zM684 207h1v1h-1zM685 207h1v3h-1zM686 207h1v1h-1zM687 207h5v2h-5zM692 207h4v1h-4zM696 208h1v1h-1zM697 207h2v2h-2zM699 207h1v3h-1zM700 207h7v2h-7zM707 207h2v1h-2zM709 208h1v1h-1zM710 207h3v2h-3zM713 207h1v1h-1zM714 207h3v2h-3zM717 207h1v1h-1zM718 207h7v2h-7zM725 207h3v1h-3zM728 207h5v2h-5zM733 206h1v3h-1zM734 207h1v2h-1zM735 206h1v2h-1zM736 207h2v2h-2zM738 207h3v1h-3zM741 207h1v2h-1zM742 207h1v1h-1zM743 207h7v2h-7zM750 207h2v1h-2zM752 207h2v2h-2zM754 207h1v1h-1zM755 207h2v2h-2zM757 207h1v1h-1zM758 208h1v1h-1zM759 207h1v1h-1zM760 207h2v2h-2zM762 207h1v1h-1zM763 207h3v2h-3zM766 207h1v1h-1zM767 207h3v2h-3zM770 207h1v3h-1z"/>
<path fill="#006400" d="M50 222h10v2h-10zM60 222h3v1h-3zM63 222h11v2h-11zM74 222h1v1h-1zM75 222h2v2h-2zM77 222h1v1h-1zM78 222h1v2h-1zM79 222h1v1h-1zM80 222h1v2h-1zM81 222h1v1h-1zM82 222h12v2h-12zM94 222h1v1h-1zM95 222h5v2h-5zM100 222h2v1h-2zM102 222h4v2h-4zM106 222h3v1h-3zM109 222h2v2h-2zM111 222h2v1h-2zM113 222h3v2h-3zM116 222h1v1h-1zM117 222h2v2h-2zM119 222h2v1h-2zM121 222h1v2h-1zM122 222h1v1h-1zM123 222h2v2h-2zM125 222h1v1h-1zM126 222h1v2h-1zM127 222h1v1h-1zM128 222h2v2h-2zM130 222h3v1h-3zM133 221h1v3h-1zM134 222h1v2h-1zM135 222h2v1h-2zM137 221h1v3h-1zM138 223h1v1h-1zM139 222h3v1h-3zM142 222h9v2h-9zM151 222h2v1h-2zM153 222h4v2h-4zM157 223h1v1h-1zM158 222h2v2h-2zM160 222h1v3h-1zM161 222h1v1h-1zM162 222h10v2h-10zM172 221h1v3h-1zM173 222h9v2h-9zM182 222h1v3h-1zM183 222h1v2h-1zM184 222h1v1h-1zM185 221h1v4h-1zM186 222h3v2h-3zM189 221h1v3h-1zM190 222h2v2h-2zM192 222h1v1h-1zM193 221h1v3h-1zM194 222h2v2h-2zM196 223h1v1h-1zM197 222h1v2h-1zM198 222h1v1h-1zM199 222h2v2h-2zM201 222h1v1h-1zM202 222h9v2h-9zM211 222h1v1h-1zM212 222h8v2h-8zM220 223h1v1h-1zM221 222h1v1h-1zM222 223h1v1h-1zM223 222h2v1h-2zM225 223h1v1h-1zM226 222h1v1h-1zM227 222h1v2h-1zM228 221h1v2h-1zM229 222h1v1h-1zM230 222h7v2h-7zM237 222h2v1h-2zM239 222h1v3h-1zM240 222h1v2h-1zM241 222h3v1h-3zM244 222h6v2h-6zM250 221h1v3h-1zM251 223h1v1h-1zM252 222h2v2h-2zM254 222h3v1h-3zM257 222h3v2h-3zM260 222h1v1h-1zM261 222h1v2h-1zM262 222h1v3h-1zM263 223h1v1h-1zM264 222h10v2h-10zM274 222h1v1h-1zM275 222h1v2h-1zM276 222h1v1h-1zM277 222h3v2h-3zM280 223h1v1h-1zM281 222h4v2h-4zM285 222h3v1h-3zM288 222h2v2h-2zM290 222h3v1h-3zM293 221h1v3h-1zM294 222h4v2h-4zM298 222h2v1h-2zM300 222h4v2h-4zM304 222h1v1h-1zM305 222h1v2h-1zM306 222h2v1h-2zM308 222h4v2h-4zM312 222h2v1h-2zM314 222h3v2h-3zM317 222h1v1h-1zM318 222h3v2h-3zM321 222h2v1h-2zM323 222h2v2h-2zM325 222h1v1h-1zM326 222h3v2h-3zM329 222h3v1h-3zM332 222h1v2h-1zM333 222h1v1h-1zM334 222h3v2h-3zM337 223h1v1h-1zM338 222h5v1h-5zM343 222h1v2h-1zM344 223h1v1h-1zM345 222h8v2h-8zM353 222h1v1h-1zM354 222h7v2h-7zM361 222h1v1h-1zM362 222h5v2h-5zM367 222h3v1h-3zM370 222h6v2h-6zM376 223h1v1h-1zM377 222h2v2h-2zM379 223h1v1h-1zM380 222h2v2h-2zM382 222h1v3h-1zM383 222h6v2h-6zM389 222h2v1h-2zM391 223h1v1h-1zM392 222h1v2h-1zM393 222h1v1h-1zM394 222h7v2h-7zM401 222h2v1h-2zM403 222h1v2h-1zM404 222h4v1h-4zM408 222h3v2h-3zM411 222h1v1h-1zM412 222h33v2h-33zM445 222h1v1h-1zM446 222h14v2h-14zM460 222h1v1h-1zM461 222h1v2h-1zM462 222h1v1h-1zM463 222h1v2h-1zM464 222h2v1h-2zM466 222h4v2h-4zM470 222h2v1h-2zM472 222h1v2h-1zM473 222h3v1h-3zM476 222h1v2h-1zM477 222h1v1h-1zM478 222h2v2h-2zM480 222h6v1h-6zM486 222h6v2h-6zM492 222h1v1h-1zM493 221h1v3h-1zM494 222h1v1h-1zM495 222h4v2h-4zM499 222h1v1h-1zM500 222h1v2h-1zM501 222h1v1h-1zM502 222h2v2h-2zM504 222h1v1h-1zM505 222h1v2h-1zM506 222h1v1h-1zM507 222h2v2h-2zM509 222h2v1h-2zM511 222h5v2h-5zM516 222h1v3h-1zM517 222h3v1h-3zM520 222h2v2h-2zM522 222h2v1h-2zM524 222h3v2h-3zM527 222h2v1h-2zM529 223h1v1h-1zM530 222h15v2h-15zM545 222h1v1h-1zM546 222h2v2h-2zM548 223h1v1h-1zM549 222h5v2h-5zM554 222h1v3h-1zM555 222h5v2h-5zM560 222h1v1h-1zM561 223h1v1h-1zM562 222h1v2h-1zM563 222h1v1h-1zM564 222h3v2h-3zM567 222h1v1h-1zM568 222h5v2h-5zM573 222h1v1h-1zM574 222h8v2h-8zM582 223h1v1h-1zM583 222h1v1h-1zM584 222h3v2h-3zM587 222h1v1h-1zM588 222h12v2h-12zM600 222h1v1h-1zM601 222h1v2h-1zM602 222h1v1h-1zM603 222h4v2h-4zM607 222h2v1h-2zM609 223h1v1h-1zM610 222h1v2h-1zM611 222h4v1h-4zM615 222h2v2h-2zM617 222h2v1h-2zM619 222h7v2h-7zM626 222h1v1h-1zM627 223h1v1h-1zM628 222h16v2h-16zM644 222h1v1h-1zM645 222h1v3h-1zM646 222h1v1h-1zM647 222h2v2h-2zM649 222h1v3h-1zM650 222h5v1h-5zM655 222h2v2h-2zM657 222h2v1h-2zM659 223h1v1h-1zM660 222h21v2h-21zM681 222h1v1h-1zM682 222h2v2h-2zM684 222h1v1h-1zM685 223h2v1h-2zM687 222h1v1h-1zM688 222h2v2h-2zM690 223h1v1h-1zM691 222h2v2h-2zM693 223h1v1h-1zM694 222h12v2h-12zM706 222h1v1h-1zM707 222h7v2h-7zM714 223h1v1h-1zM715 222h2v1h-2zM717 223h1v1h-1zM718 222h1v1h-1zM719 222h1v2h-1zM720 222h1v1h-1zM721 222h2v2h-2zM723 223h1v1h-1zM724 222h4v2h-4zM728 223h1v1h-1zM729 222h1v1h-1zM730 222h2v2h-2zM732 222h4v1h-4zM736 222h1v2h-1zM737 222h2v1h-2zM739 223h1v1h-1zM740 222h1v1h-1zM741 222h8v2h-8zM749 222h4v1h-4zM753 222h2v2h-2zM755 222h1v1h-1zM756 222h1v2h-1zM757 222h1v1h-1zM758 222h7v2h-7zM765 222h1v1h-1zM766 222h4v2h-4zM770 222h1v1h-1z"/>
<path fill="#000000" d="M50 237h2v2h-2zM52 238h1v1h-1zM53 237h2v2h-2zM55 237h1v1h-1zM56 237h7v2h-7zM63 236h1v3h-1zM64 238h1v1h-1zM65 237h1v2h-1zM66 237h1v1h-1zM67 237h5v2h-5zM72 237h1v1h-1zM73 238h1v1h-1zM74 237h3v1h-3zM77 237h1v2h-1zM78 237h1v1h-1zM79 237h3v2h-3zM82 237h2v1h-2zM84 238h1v1h-1zM85 237h2v1h-2zM87 238h1v1h-1zM88 237h1v1h-1zM89 237h4v2h-4zM93 237h2v1h-2zM95 237h1v2h-1zM96 237h3v1h-3zM99 238h1v1h-1zM100 237h3v2h-3zM103 237h1v1h-1zM104 238h1v1h-1zM105 237h2v1h-2zM107 237h1v2h-1zM108 237h1v1h-1zM109 237h3v2h-3zM112 238h1v1h-1zM113 237h1v1h-1zM114 237h2v2h-2zM116 237h1v1h-1zM117 237h13v2h-13zM130 238h1v1h-1zM131 237h4v2h-4zM135 237h6v1h-6zM141 237h1v2h-1zM142 238h1v1h-1zM143 237h1v1h-1zM144 238h1v1h-1zM145 237h4v2h-4zM149 237h5v1h-5zM154 237h5v2h-5zM159 237h1v1h-1zM160 237h2v2h-2zM162 238h1v1h-1zM163 237h2v2h-2zM165 237h2v1h-2zM167 237h3v2h-3zM170 237h3v1h-3zM173 237h1v2h-1zM174 237h10v1h-10zM184 237h3v2h-3zM187 238h1v1h-1zM188 237h3v2h-3zM191 237h2v1h-2zM193 237h4v2h-4zM197 237h1v1h-1zM198 237h1v2h-1zM199 237h1v1h-1zM200 237h4v2h-4zM204 237h2v1h-2zM206 238h1v1h-1zM207 237h3v1h-3zM210 237h1v2h-1zM211 237h2v1h-2zM213 237h1v2h-1zM214 237h1v1h-1zM215 237h1v2h-1zM216 237h1v3h-1zM217 237h7v2h-7zM224 237h2v1h-2zM226 237h2v2h-2zM228 237h1v1h-1zM229 237h8v2h-8zM237 237h2v1h-2zM239 237h5v2h-5zM244 237h2v1h-2zM246 237h1v2h-1zM247 237h3v1h-3zM250 237h3v2h-3zM253 237h2v1h-2zM255 237h1v2h-1zM256 237h2v1h-2zM258 238h1v1h-1zM259 237h4v1h-4zM263 237h3v2h-3zM266 237h4v1h-4zM270 237h1v2h-1zM271 237h1v1h-1zM272 237h1v2h-1zM273 237h3v1h-3zM276 237h1v2h-1zM277 237h4v1h-4zM281 237h2v2h-2zM283 237h2v1h-2zM285 237h6v2h-6zM291 237h4v1h-4zM295 237h3v2h-3zM298 237h2v1h-2zM300 238h1v1h-1zM301 237h6v1h-6zM307 237h1v3h-1zM308 237h2v2h-2zM310 237h1v1h-1zM311 237h1v2h-1zM312 236h1v3h-1zM313 237h1v1h-1zM314 237h2v2h-2zM316 237h1v1h-1zM317 237h1v2h-1zM318 237h2v1h-2zM320 237h1v2h-1zM321 237h1v1h-1zM322 237h3v2h-3zM325 237h1v1h-1zM326 238h1v1h-1zM327 237h1v1h-1zM328 237h6v2h-6zM334 238h1v1h-1zM335 237h2v1h-2zM337 237h4v2h-4zM341 237h2v1h-2zM343 237h5v2h-5zM348 237h1v1h-1zM349 238h1v1h-1zM350 237h2v1h-2zM352 237h1v2h-1zM353 237h2v1h-2zM355 237h2v2h-2zM357 237h2v1h-2zM359 238h1v1h-1zM360 237h3v1h-3zM363 237h1v2h-1zM364 237h1v1h-1zM365 237h5v2h-5zM370 237h4v1h-4zM374 237h3v2h-3zM377 238h1v1h-1zM378 237h2v2h-2zM380 237h1v1h-1zM381 237h1v2h-1zM382 237h1v1h-1zM383 237h6v2h-6zM389 237h2v1h-2zM391 237h1v2h-1zM392 237h1v1h-1zM393 237h6v2h-6zM399 237h3v1h-3zM402 237h3v2h-3zM405 237h5v1h-5zM410 237h4v2h-4zM414 238h1v1h-1zM415 237h1v1h-1zM416 237h4v2h-4zM420 237h1v1h-1zM421 237h1v2h-1zM422 237h1v1h-1zM423 238h1v1h-1zM424 237h2v1h-2zM426 237h5v2h-5zM431 237h2v1h-2zM433 237h1v2h-1zM434 238h2v1h-2zM436 237h3v2h-3zM439 237h6v1h-6zM445 237h4v2h-4zM449 237h1v1h-1zM450 237h5v2h-5zM455 237h2v1h-2zM457 237h6v2h-6zM463 237h1v1h-1zM464 237h2v2h-2zM466 237h1v1h-1zM467 237h1v2h-1zM468 237h1v1h-1zM469 237h1v2h-1zM470 237h1v1h-1zM471 237h2v2h-2zM473 237h1v1h-1zM474 237h7v2h-7zM481 237h1v1h-1zM482 238h1v1h-1zM483 237h1v1h-1zM484 237h1v2h-1zM485 237h2v1h-2zM487 237h1v2h-1zM488 237h1v1h-1zM489 237h3v2h-3zM492 237h1v1h-1zM493 237h3v2h-3zM496 238h1v1h-1zM497 237h1v2h-1zM498 237h1v1h-1zM499 237h2v2h-2zM501 238h1v1h-1zM502 237h2v1h-2zM504 237h1v2h-1zM505 237h1v1h-1zM506 237h1v2h-1zM507 237h1v1h-1zM508 237h1v2h-1zM509 237h1v1h-1zM510 237h1v2h-1zM511 237h1v1h-1zM512 237h3v2h-3zM515 237h1v1h-1zM516 237h1v2h-1zM517 237h3v1h-3zM520 238h1v1h-1zM521 237h4v1h-4zM525 237h3v2h-3zM528 237h3v1h-3zM531 237h4v2h-4zM535 237h2v1h-2zM537 237h3v2h-3zM540 237h2v1h-2zM542 238h1v1h-1zM543 237h10v2h-10zM553 238h1v1h-1zM554 237h3v2h-3zM557 237h1v1h-1zM558 237h1v2h-1zM559 237h5v1h-5zM564 237h1v2h-1zM565 238h1v1h-1zM566 237h1v2h-1zM567 237h2v1h-2zM569 237h1v2h-1zM570 237h2v1h-2zM572 237h1v2h-1zM573 237h2v1h-2zM575 237h8v2h-8zM583 237h1v1h-1zM584 237h1v2h-1zM585 237h3v1h-3zM588 237h2v2h-2zM590 237h1v1h-1zM591 237h1v2h-1zM592 237h1v1h-1zM593 237h2v2h-2zM595 236h1v3h-1zM596 237h1v1h-1zM597 237h1v2h-1zM598 238h1v1h-1zM599 237h1v1h-1zM600 237h2v2h-2zM602 237h3v1h-3zM605 237h1v2h-1zM606 237h1v1h-1zM607 238h1v1h-1zM608 237h3v1h-3zM611 237h4v2h-4zM615 237h3v1h-3zM618 237h2v2h-2zM620 237h4v1h-4zM624 237h1v2h-1zM625 237h1v1h-1zM626 237h1v2h-1zM627 237h2v1h-2zM629 237h4v2h-4zM633 237h1v1h-1zM634 237h2v2h-2zM636 237h1v1h-1zM637 237h1v2h-1zM638 237h1v3h-1zM639 237h3v2h-3zM642 237h3v1h-3zM645 237h1v2h-1zM646 237h1v1h-1zM647 237h7v2h-7zM654 237h1v1h-1zM655 237h3v2h-3zM658 237h2v1h-2zM660 237h1v2h-1zM661 237h1v1h-1zM662 237h4v2h-4zM666 237h3v1h-3zM669 237h2v2h-2zM671 238h1v1h-1zM672 237h1v1h-1zM673 238h1v1h-1zM674 237h3v1h-3zM677 237h4v2h-4zM681 237h6v1h-6zM687 237h2v2h-2zM689 237h3v1h-3zM692 237h2v2h-2zM694 237h1v1h-1zM695 238h1v1h-1zM696 237h4v2h-4zM700 237h2v1h-2zM702 237h1v2h-1zM703 237h1v1h-1zM704 237h4v2h-4zM708 238h1v1h-1zM709 237h2v1h-2zM711 237h1v2h-1zM712 237h1v1h-1zM713 237h1v2h-1zM714 237h1v1h-1zM715 237h1v2h-1zM716 237h1v1h-1zM717 237h1v2h-1zM718 237h1v1h-1zM719 237h1v2h-1zM720 237h1v1h-1zM721 237h5v2h-5zM726 237h1v1h-1zM727 237h4v2h-4zM731 238h1v1h-1zM732 237h2v2h-2zM734 237h1v1h-1zM735 237h1v2h-1zM736 237h1v1h-1zM737 237h2v2h-2zM739 237h3v1h-3zM742 237h1v2h-1zM743 237h1v1h-1zM744 238h1v1h-1zM745 237h2v2h-2zM747 237h1v1h-1zM748 237h2v2h-2zM750 237h1v1h-1zM751 237h1v2h-1zM752 237h3v1h-3zM755 237h3v2h-3zM758 237h1v1h-1zM759 237h1v2h-1zM760 237h3v1h-3zM763 237h1v2h-1zM764 237h1v1h-1zM765 237h1v2h-1zM766 237h4v1h-4zM770 237h1v2h-1z"/>
<path fill="#ff0000" d="M50 252h1v1h-1zM51 252h4v2h-4zM55 253h1v1h-1zM56 252h12v2h-12zM68 252h1v1h-1zM69 252h1v2h-1zM70 252h1v1h-1zM71 252h12v2h-12zM83 252h1v1h-1zM84 252h1v2h-1zM85 252h2v1h-2zM87 252h1v2h-1zM88 252h5v1h-5zM93 252h3v2h-3zM96 251h1v2h-1zM97 252h3v2h-3zM100 252h1v1h-1zM101 252h8v2h-8zM109 252h1v1h-1zM110 252h4v2h-4zM114 252h4v1h-4zM118 252h3v2h-3zM121 252h1v1h-1zM122 252h9v2h-9zM131 252h3v1h-3zM134 252h7v2h-7zM141 252h1v1h-1zM142 252h4v2h-4zM146 252h2v1h-2zM148 252h1v2h-1zM149 252h1v1h-1zM150 253h1v1h-1zM151 252h8v2h-8zM159 252h2v1h-2zM161 252h1v2h-1zM162 252h1v1h-1zM163 252h3v2h-3zM166 252h1v1h-1zM167 252h2v2h-2zM169 252h1v1h-1zM170 252h4v2h-4zM174 253h1v1h-1zM175 252h1v2h-1zM176 252h1v1h-1zM177 252h1v2h-1zM178 252h1v1h-1zM179 252h3v2h-3zM182 251h1v3h-1zM183 252h3v2h-3zM186 252h1v1h-1zM187 252h7v2h-7zM194 252h1v1h-1zM195 252h1v2h-1zM196 252h1v1h-1zM197 252h3v2h-3zM200 252h1v3h-1zM201 252h2v2h-2zM203 252h2v1h-2zM205 252h3v2h-3zM208 253h1v1h-1zM209 252h1v2h-1zM210 252h1v1h-1zM211 252h4v2h-4zM215 253h1v1h-1zM216 252h10v2h-10zM226 252h1v1h-1zM227 252h2v2h-2zM229 252h1v1h-1zM230 252h3v2h-3zM233 252h1v1h-1zM234 252h16v2h-16zM250 252h1v1h-1zM251 252h3v2h-3zM254 253h1v1h-1zM255 252h1v2h-1zM256 252h1v3h-1zM257 252h1v2h-1zM258 252h1v1h-1zM259 252h4v2h-4zM263 252h1v1h-1zM264 252h3v2h-3zM267 252h1v1h-1zM268 252h1v2h-1zM269 252h1v3h-1zM270 252h2v2h-2zM272 252h1v1h-1zM273 252h5v2h-5zM278 252h2v1h-2zM280 252h3v2h-3zM283 252h2v1h-2zM285 252h3v2h-3zM288 252h1v1h-1zM289 252h7v2h-7zM296 252h1v1h-1zM297 252h3v2h-3zM300 252h2v1h-2zM302 252h7v2h-7zM309 252h1v1h-1zM310 252h2v2h-2zM312 252h1v1h-1zM313 252h8v2h-8zM321 252h1v3h-1zM322 252h1v1h-1zM323 252h1v2h-1zM324 252h2v1h-2zM326 252h3v2h-3zM329 251h1v3h-1zM330 252h5v2h-5zM335 252h1v1h-1zM336 252h11v2h-11zM347 252h1v1h-1zM348 252h4v2h-4zM352 253h2v1h-2zM354 252h1v2h-1zM355 252h1v1h-1zM356 252h3v2h-3zM359 252h1v1h-1zM360 252h1v2h-1zM361 252h2v1h-2zM363 252h10v2h-10zM373 252h2v1h-2zM375 252h1v2h-1zM376 252h2v1h-2zM378 252h6v2h-6zM384 252h1v1h-1zM385 252h4v2h-4zM389 252h1v1h-1zM390 252h7v2h-7zM397 252h1v1h-1zM398 252h3v2h-3zM401 251h1v3h-1zM402 253h1v1h-1zM403 252h1v1h-1zM404 252h1v2h-1zM405 252h1v1h-1zM406 252h3v2h-3zM409 251h1v2h-1zM410 252h1v1h-1zM411 252h2v2h-2zM413 252h1v1h-1zM414 252h2v2h-2zM416 252h1v1h-1zM417 252h1v2h-1zM418 252h6v1h-6zM424 253h1v1h-1zM425 252h1v2h-1zM426 252h1v1h-1zM427 253h1v1h-1zM428 252h3v2h-3zM431 253h1v1h-1zM432 252h1v1h-1zM433 252h4v2h-4zM437 252h1v1h-1zM438 252h4v2h-4zM442 252h1v1h-1zM443 252h3v2h-3zM446 252h1v1h-1zM447 252h2v2h-2zM449 252h2v1h-2zM451 252h4v2h-4zM455 252h1v1h-1zM456 252h2v2h-2zM458 252h2v1h-2zM460 252h5v2h-5zM465 252h1v1h-1zM466 252h2v2h-2zM468 252h3v1h-3zM471 252h9v2h-9zM480 252h1v1h-1zM481 252h5v2h-5zM486 252h1v1h-1zM487 252h2v2h-2zM489 252h1v3h-1zM490 252h2v2h-2zM492 252h1v1h-1zM493 252h1v2h-1zM494 252h2v1h-2zM496 252h2v2h-2zM498 252h2v1h-2zM500 252h3v2h-3zM503 252h1v1h-1zM504 251h1v2h-1zM505 252h4v2h-4zM509 252h1v1h-1zM510 252h10v2h-10zM520 252h1v1h-1zM521 252h8v2h-8zM529 252h1v1h-1zM530 253h1v1h-1zM531 252h1v1h-1zM532 252h4v2h-4zM536 252h1v1h-1zM537 252h5v2h-5zM542 252h2v1h-2zM544 252h2v2h-2zM546 252h1v1h-1zM547 251h1v3h-1zM548 252h1v2h-1zM549 252h2v1h-2zM551 252h4v2h-4zM555 252h1v3h-1zM556 253h1v1h-1zM557 252h9v2h-9zM566 252h1v1h-1zM567 253h1v1h-1zM568 252h1v1h-1zM569 252h10v2h-10zM579 252h1v1h-1zM580 252h2v2h-2zM582 252h1v1h-1zM583 252h1v2h-1zM584 252h2v1h-2zM586 252h6v2h-6zM592 252h2v1h-2zM594 252h7v2h-7zM601 252h1v3h-1zM602 252h1v1h-1zM603 252h7v2h-7zM610 252h1v1h-1zM611 252h2v2h-2zM613 252h2v1h-2zM615 252h3v2h-3zM618 252h1v1h-1zM619 252h1v2h-1zM620 252h2v1h-2zM622 252h5v2h-5zM627 252h1v1h-1zM628 252h6v2h-6zM634 251h1v3h-1zM635 252h6v2h-6zM641 252h2v1h-2zM643 252h5v2h-5zM648 252h2v1h-2zM650 252h3v2h-3zM653 252h1v1h-1zM654 252h3v2h-3zM657 252h1v3h-1zM658 252h1v2h-1zM659 253h1v1h-1zM660 252h2v1h-2zM662 252h1v2h-1zM663 252h1v1h-1zM664 252h3v2h-3zM667 252h5v1h-5zM672 252h6v2h-6zM678 251h1v3h-1zM679 252h1v2h-1zM680 251h1v3h-1zM681 252h2v2h-2zM683 252h2v1h-2zM685 252h3v2h-3zM688 252h1v1h-1zM689 252h6v2h-6zM695 252h1v1h-1zM696 252h1v2h-1zM697 252h2v1h-2zM699 252h1v2h-1zM700 252h1v1h-1zM701 252h1v2h-1zM702 252h1v1h-1zM703 252h6v2h-6zM709 252h1v1h-1zM710 252h5v2h-5zM715 252h3v1h-3zM718 252h1v2h-1zM719 252h1v1h-1zM720 252h5v2h-5zM725 252h2v1h-2zM727 252h1v2h-1zM728 252h1v1h-1zM729 252h2v2h-2zM731 251h1v3h-1zM732 252h3v2h-3zM735 252h1v1h-1zM736 252h1v2h-1zM737 252h1v1h-1zM738 252h1v2h-1zM739 252h4v1h-4zM743 252h1v2h-1zM744 252h2v1h-2zM746 252h1v2h-1zM747 252h1v1h-1zM748 252h18v2h-18zM766 252h5v1h-5z"/>
<path fill="#0000ff" d="M50 267h1v1h-1zM51 267h1v2h-1zM52 266h1v2h-1zM53 268h1v1h-1zM54 267h1v2h-1zM55 267h1v1h-1zM56 267h3v2h-3zM59 267h1v1h-1zM60 267h3v2h-3zM63 267h1v1h-1zM64 267h12v2h-12zM76 267h1v1h-1zM77 267h5v2h-5zM82 267h1v1h-1zM83 267h8v2h-8zM91 268h1v1h-1zM92 267h7v2h-7zM99 267h1v1h-1zM100 267h2v2h-2zM102 267h1v1h-1zM103 266h1v3h-1zM104 267h1v2h-1zM105 267h1v1h-1zM106 267h3v2h-3zM109 267h2v1h-2zM111 267h2v2h-2zM113 267h1v1h-1zM114 268h1v1h-1zM115 267h1v2h-1zM116 267h1v1h-1zM117 267h1v2h-1zM118 267h2v1h-2zM120 267h1v2h-1zM121 267h1v1h-1zM122 267h10v2h-10zM132 267h1v1h-1zM133 267h4v2h-4zM137 267h1v1h-1zM138 267h1v2h-1zM139 268h1v1h-1zM140 267h2v2h-2zM142 267h2v1h-2zM144 267h4v2h-4zM148 267h1v1h-1zM149 268h1v1h-1zM150 267h7v2h-7zM157 267h2v1h-2zM159 267h3v2h-3zM162 268h1v1h-1zM163 267h1v1h-1zM164 268h1v1h-1zM165 267h1v2h-1zM166 267h1v1h-1zM167 267h1v2h-1zM168 267h2v1h-2zM170 267h4v2h-4zM174 267h1v1h-1zM175 267h1v2h-1zM176 268h1v1h-1zM177 267h3v1h-3zM180 267h4v2h-4zM184 267h1v1h-1zM185 267h4v2h-4zM189 267h2v1h-2zM191 267h1v2h-1zM192 267h3v1h-3zM195 267h7v2h-7zM202 268h1v1h-1zM203 267h2v1h-2zM205 267h4v2h-4zM209 267h1v1h-1zM210 267h1v2h-1zM211 267h2v1h-2zM213 267h3v2h-3zM216 268h1v1h-1zM217 267h1v2h-1zM218 267h1v1h-1zM219 267h9v2h-9zM228 267h1v3h-1zM229 267h1v1h-1zM230 267h1v2h-1zM231 268h1v1h-1zM232 267h6v1h-6zM238 267h9v2h-9zM247 267h1v1h-1zM248 267h4v2h-4zM252 267h2v1h-2zM254 267h8v2h-8zM262 267h2v1h-2zM264 267h6v2h-6zM270 267h2v1h-2zM272 267h1v2h-1zM273 267h1v1h-1zM274 267h4v2h-4zM278 266h1v3h-1zM279 267h1v1h-1zM280 268h1v1h-1zM281 267h1v2h-1zM282 267h2v1h-2zM284 267h2v2h-2zM286 267h2v1h-2zM288 267h5v2h-5zM293 267h1v3h-1zM294 267h1v2h-1zM295 268h1v1h-1zM296 267h1v1h-1zM297 267h5v2h-5zM302 267h1v1h-1zM303 267h1v2h-1zM304 267h1v1h-1zM305 267h5v2h-5zM310 266h1v3h-1zM311 267h4v2h-4zM315 266h1v3h-1zM316 267h1v1h-1zM317 266h1v3h-1zM318 267h11v2h-11zM329 267h1v1h-1zM330 267h4v2h-4zM334 267h1v1h-1zM335 267h2v2h-2zM337 267h1v1h-1zM338 267h10v2h-10zM348 268h1v1h-1zM349 267h1v1h-1zM350 267h1v2h-1zM351 267h1v1h-1zM352 267h4v2h-4zM356 267h2v1h-2zM358 267h9v2h-9zM367 268h1v1h-1zM368 267h2v1h-2zM370 267h2v2h-2zM372 267h1v1h-1zM373 267h1v2h-1zM374 267h2v1h-2zM376 267h14v2h-14zM390 267h1v1h-1zM391 267h2v2h-2zM393 267h1v1h-1zM394 268h1v1h-1zM395 267h2v2h-2zM397 268h1v1h-1zM398 267h3v2h-3zM401 267h2v1h-2zM403 267h1v2h-1zM404 267h2v1h-2zM406 267h2v2h-2zM408 267h1v1h-1zM409 267h7v2h-7zM416 266h1v3h-1zM417 267h3v2h-3zM420 267h2v1h-2zM422 268h1v1h-1zM423 267h6v2h-6zM429 268h1v1h-1zM430 267h3v2h-3zM433 268h1v1h-1zM434 267h1v1h-1zM435 267h2v2h-2zM437 267h2v1h-2zM439 267h9v2h-9zM448 266h1v3h-1zM449 267h1v1h-1zM450 267h1v2h-1zM451 267h1v1h-1zM452 268h1v1h-1zM453 267h2v1h-2zM455 267h1v2h-1zM456 267h2v1h-2zM458 267h3v2h-3zM461 267h4v1h-4zM465 267h5v2h-5zM470 267h1v1h-1zM471 267h2v2h-2zM473 267h2v1h-2zM475 267h4v2h-4zM479 267h2v1h-2zM481 267h1v2h-1zM482 267h2v1h-2zM484 267h6v2h-6zM490 267h3v1h-3zM493 267h3v2h-3zM496 267h1v1h-1zM497 268h1v1h-1zM498 267h1v1h-1zM499 267h2v2h-2zM501 267h1v3h-1zM502 267h3v2h-3zM505 267h1v1h-1zM506 268h1v1h-1zM507 267h1v1h-1zM508 267h4v2h-4zM512 267h1v1h-1zM513 267h1v2h-1zM514 267h1v3h-1zM515 267h3v2h-3zM518 267h1v1h-1zM519 267h6v2h-6zM525 267h1v1h-1zM526 266h1v3h-1zM527 267h3v2h-3zM530 267h2v1h-2zM532 267h3v2h-3zM535 267h1v1h-1zM536 267h3v2h-3zM539 267h1v1h-1zM540 267h7v2h-7zM547 266h1v3h-1zM548 267h1v2h-1zM549 267h1v1h-1zM550 267h3v2h-3zM553 267h1v1h-1zM554 267h3v2h-3zM557 267h2v1h-2zM559 267h9v2h-9zM568 268h1v1h-1zM569 267h3v2h-3zM572 267h1v1h-1zM573 267h3v2h-3zM576 267h1v3h-1zM577 267h5v2h-5zM582 267h1v1h-1zM583 267h4v2h-4zM587 267h2v1h-2zM589 267h1v2h-1zM590 266h1v3h-1zM591 267h1v2h-1zM592 267h1v1h-1zM593 267h2v2h-2zM595 267h1v1h-1zM596 267h4v2h-4zM600 268h1v1h-1zM601 267h1v2h-1zM602 267h1v1h-1zM603 267h7v2h-7zM610 267h2v1h-2zM612 267h2v2h-2zM614 267h1v1h-1zM615 267h2v2h-2zM617 267h1v1h-1zM618 267h3v2h-3zM621 267h3v1h-3zM624 267h4v2h-4zM628 267h1v1h-1zM629 267h3v2h-3zM632 268h1v1h-1zM633 267h1v2h-1zM634 267h3v1h-3zM637 267h2v2h-2zM639 266h1v3h-1zM640 267h1v2h-1zM641 267h1v1h-1zM642 267h2v2h-2zM644 267h1v1h-1zM645 268h1v1h-1zM646 267h2v2h-2zM648 267h1v1h-1zM649 267h4v2h-4zM653 267h1v1h-1zM654 267h6v2h-6zM660 267h2v1h-2zM662 267h1v2h-1zM663 267h2v1h-2zM665 267h3v2h-3zM668 266h1v3h-1zM669 267h2v2h-2zM671 268h1v1h-1zM672 267h2v1h-2zM674 267h2v2h-2zM676 267h1v1h-1zM677 267h1v2h-1zM678 266h1v2h-1zM679 267h2v2h-2zM681 267h1v1h-1zM682 267h2v2h-2zM684 267h1v1h-1zM685 267h7v2h-7zM692 267h1v1h-1zM693 267h1v2h-1zM694 267h1v1h-1zM695 267h2v2h-2zM697 267h1v1h-1zM698 267h2v2h-2zM700 267h5v1h-5zM705 267h1v2h-1zM706 267h1v1h-1zM707 267h3v2h-3zM710 267h2v1h-2zM712 267h8v2h-8zM720 267h1v1h-1zM721 267h2v2h-2zM723 267h1v1h-1zM724 267h4v2h-4zM728 267h1v1h-1zM729 267h7v2h-7zM736 267h1v3h-1zM737 267h14v2h-14zM751 268h1v1h-1zM752 267h4v2h-4zM756 267h2v1h-2zM758 268h1v1h-1zM759 267h2v1h-2zM761 267h1v2h-1zM762 267h1v1h-1zM763 267h2v2h-2zM765 267h2v1h-2zM767 267h3v2h-3zM770 267h1v1h-1z"/>
<path fill="#006400" d="M50 282h16v2h-16zM66 282h1v1h-1zM67 283h1v1h-1zM68 282h2v2h-2zM70 282h1v1h-1zM71 282h14v2h-14zM85 282h2v1h-2zM87 282h3v2h-3zM90 282h1v1h-1zM91 282h2v2h-2zM93 282h2v1h-2zM95 282h1v2h-1zM96 282h2v1h-2zM98 282h1v2h-1zM99 282h4v1h-4zM103 282h4v2h-4zM107 283h1v1h-1zM108 282h3v2h-3zM111 282h1v1h-1zM112 282h7v2h-7zM119 282h1v1h-1zM120 282h3v2h-3zM123 282h1v1h-1zM124 282h6v2h-6zM130 282h3v1h-3zM133 282h2v2h-2zM135 282h2v1h-2zM137 282h3v2h-3zM140 282h5v1h-5zM145 282h2v2h-2zM147 282h1v1h-1zM148 283h1v1h-1zM149 282h12v2h-12zM161 282h2v1h-2zM163 282h2v2h-2zM165 282h1v1h-1zM166 282h4v2h-4zM170 281h1v3h-1zM171 282h6v2h-6zM177 282h2v1h-2zM179 282h2v2h-2zM181 283h1v1h-1zM182 282h3v2h-3zM185 281h1v4h-1zM186 282h3v2h-3zM189 283h1v1h-1zM190 282h1v1h-1zM191 282h3v2h-3zM194 281h1v2h-1zM195 282h1v1h-1zM196 282h1v2h-1zM197 281h1v3h-1zM198 282h2v2h-2zM200 282h1v1h-1zM201 282h2v2h-2zM203 283h1v1h-1zM204 282h1v1h-1zM205 282h5v2h-5zM210 282h3v1h-3zM213 282h14v2h-14zM227 281h1v3h-1zM228 282h1v1h-1zM229 281h1v3h-1zM230 282h2v1h-2zM232 282h1v2h-1zM233 281h1v3h-1zM234 282h2v2h-2zM236 283h1v1h-1zM237 282h1v1h-1zM238 282h1v2h-1zM239 282h1v1h-1zM240 281h1v2h-1zM241 282h3v2h-3zM244 282h1v3h-1zM245 282h1v1h-1zM246 282h2v2h-2zM248 283h1v1h-1zM249 282h2v2h-2zM251 281h1v3h-1zM252 282h1v2h-1zM253 282h1v1h-1zM254 282h1v2h-1zM255 283h1v1h-1zM256 282h6v2h-6zM262 282h1v3h-1zM263 282h1v1h-1zM264 282h2v2h-2zM266 281h1v3h-1zM267 282h2v2h-2zM269 282h1v1h-1zM270 282h2v2h-2zM272 282h1v1h-1zM273 282h5v2h-5zM278 282h2v1h-2zM280 282h7v2h-7zM287 282h4v1h-4z"/>
</g>
<path fill="#808080" shape-rendering="crispEdges" d="M50 50h1v721h-1zM98 50h1v721h-1zM146 50h1v721h-1zM194 50h1v721h-1zM242 50h1v721h-1zM290 50h1v721h-1zM338 50h1v721h-1zM386 50h1v721h-1zM434 50h1v721h-1zM482 50h1v721h-1zM530 50h1v721h-1zM578 50h1v721h-1zM626 50h1v721h-1zM674 50h1v721h-1zM722 50h1v721h-1zM770 50h1v721h-1z"/>
<path fill="#000" shape-rendering="crispEdges" d="M50 50h721v1h-721zM50 770h721v1h-721zM50 770h1v12h-1zM58 770h1v8h-1zM66 770h1v8h-1zM74 770h1v8h-1zM82 770h1v8h-1zM90 770h1v8h-1zM98 770h1v12h-1zM106 770h1v8h-1zM114 770h1v8h-1zM122 770h1v8h-1zM130 770h1v8h-1zM138 770h1v8h-1zM146 770h1v12h-1zM154 770h1v8h-1zM162 770h1v8h-1zM170 770h1v8h-1zM178 770h1v8h-1zM186 770h1v8h-1zM194 770h1v12h-1zM202 770h1v8h-1zM210 770h1v8h-1zM218 770h1v8h-1zM226 770h1v8h-1zM234 770h1v8h-1zM242 770h1v12h-1zM250 770h1v8h-1zM258 770h1v8h-1zM266 770h1v8h-1zM274 770h1v8h-1zM282 770h1v8h-1zM290 770h1v12h-1zM298 770h1v8h-1zM306 770h1v8h-1zM314 770h1v8h-1zM322 770h1v8h-1zM330 770h1v8h-1zM338 770h1v12h-1zM346 770h1v8h-1zM354 770h1v8h-1zM362 770h1v8h-1zM370 770h1v8h-1zM378 770h1v8h-1zM386 770h1v12h-1zM394 770h1v8h-1zM402 770h1v8h-1zM410 770h1v8h-1zM418 770h1v8h-1zM426 770h1v8h-1zM434 770h1v12h-1zM442 770h1v8h-1zM450 770h1v8h-1zM458 770h1v8h-1zM466 770h1v8h-1zM474 770h1v8h-1zM482 770h1v12h-1zM490 770h1v8h-1zM498 770h1v8h-1zM506 770h1v8h-1zM514 770h1v8h-1zM522 770h1v8h-1zM530 770h1v12h-1zM538 770h1v8h-1zM546 770h1v8h-1zM554 770h1v8h-1zM562 770h1v8h-1zM570 770h1v8h-1zM578 770h1v12h-1zM586 770h1v8h-1zM594 770h1v8h-1zM602 770h1v8h-1zM610 770h1v8h-1zM618 770h1v8h-1zM626 770h1v12h-1zM634 770h1v8h-1zM642 770h1v8h-1zM650 770h1v8h-1zM658 770h1v8h-1zM666 770h1v8h-1zM674 770h1v12h-1zM682 770h1v8h-1zM690 770h1v8h-1zM698 770h1v8h-1zM706 770h1v8h-1zM714 770h1v8h-1zM722 770h1v12h-1zM730 770h1v8h-1zM738 770h1v8h-1zM746 770h1v8h-1zM754 770h1v8h-1zM762 770h1v8h-1zM770 770h1v12h-1z"/>
<text class="b" x="49.5" y="16" textLength="70" lengthAdjust="spacingAndGlyphs">Dec27,2025</text>
<text class="b" x="49.5" y="31" textLength="98" lengthAdjust="spacingAndGlyphs">XYLS HHZ CQ --</text>
<text class="b" x="49.5" y="46" textLength="70" lengthAdjust="spacingAndGlyphs">(Xyliatos)</text>
<text class="b" x="-0.5" y="61" textLength="21" lengthAdjust="spacingAndGlyphs">EET</text>
<text class="b" x="13.5" y="123" textLength="35" lengthAdjust="spacingAndGlyphs">03:00</text>
<text class="b" x="13.5" y="183" textLength="35" lengthAdjust="spacingAndGlyphs">04:00</text>
<text class="b" x="13.5" y="243" textLength="35" lengthAdjust="spacingAndGlyphs">05:00</text>
<text class="b" x="13.5" y="303" textLength="35" lengthAdjust="spacingAndGlyphs">06:00</text>
<text class="b" x="13.5" y="363" textLength="35" lengthAdjust="spacingAndGlyphs">07:00</text>
<text class="b" x="13.5" y="423" textLength="35" lengthAdjust="spacingAndGlyphs">08:00</text>
<text class="b" x="13.5" y="483" textLength="35" lengthAdjust="spacingAndGlyphs">09:00</text>
<text class="b" x="13.5" y="543" textLength="35" lengthAdjust="spacingAndGlyphs">10:00</text>
<text class="b" x="13.5" y="603" textLength="35" lengthAdjust="spacingAndGlyphs">11:00</text>
<text class="b" x="13.5" y="663" textLength="35" lengthAdjust="spacingAndGlyphs">12:00</text>
<text class="b" x="13.5" y="723" textLength="35" lengthAdjust="spacingAndGlyphs">13:00</text>
<text class="b" x="784.5" y="61" textLength="21" lengthAdjust="spacingAndGlyphs">UTC</text>
<text class="b" x="773.5" y="123" textLength="35" lengthAdjust="spacingAndGlyphs">01:15</text>
<text class="b" x="773.5" y="183" textLength="35" lengthAdjust="spacingAndGlyphs">02:15</text>
<text class="b" x="773.5" y="243" textLength="35" lengthAdjust="spacingAndGlyphs">03:15</text>
<text class="b" x="773.5" y="303" textLength="35" lengthAdjust="spacingAndGlyphs">04:15</text>
<text class="b" x="773.5" y="363" textLength="35" lengthAdjust="spacingAndGlyphs">05:15</text>
<text class="b" x="773.5" y="423" textLength="35" lengthAdjust="spacingAndGlyphs">06:15</text>
<text class="b" x="773.5" y="483" textLength="35" lengthAdjust="spacingAndGlyphs">07:15</text>
<text class="b" x="773.5" y="543" textLength="35" lengthAdjust="spacingAndGlyphs">08:15</text>
<text class="b" x="773.5" y="603" textLength="35" lengthAdjust="spacingAndGlyphs">09:15</text>
<text class="b" x="773.5" y="663" textLength="35" lengthAdjust="spacingAndGlyphs">10:15</text>
<text class="b" x="773.5" y="723" textLength="35" lengthAdjust="spacingAndGlyphs">11:15</text>
<text class="b" x="43" y="792" textLength="14" lengthAdjust="spacingAndGlyphs">00</text>
<text class="b" x="91" y="792" textLength="14" lengthAdjust="spacingAndGlyphs">01</text>
<text class="b" x="139" y="792" textLength="14" lengthAdjust="spacingAndGlyphs">02</text>
<text class="b" x="187" y="792" textLength="14" lengthAdjust="spacingAndGlyphs">03</text>
<text class="b" x="235" y="792" textLength="14" lengthAdjust="spacingAndGlyphs">04</text>
<text class="b" x="283" y="792" textLength="14" lengthAdjust="spacingAndGlyphs">05</text>
<text class="b" x="331" y="792" textLength="14" lengthAdjust="spacingAndGlyphs">06</text>
<text class="b" x="379" y="792" textLength="14" lengthAdjust="spacingAndGlyphs">07</text>
<text class="b" x="427" y="792" textLength="14" lengthAdjust="spacingAndGlyphs">08</text>
<text class="b" x="475" y="792" textLength="14" lengthAdjust="spacingAndGlyphs">09</text>
<text class="b" x="523" y="792" textLength="14" lengthAdjust="spacingAndGlyphs">10</text>
<text class="b" x="571" y="792" textLength="14" lengthAdjust="spacingAndGlyphs">11</text>
<text class="b" x="619" y="792" textLength="14" lengthAdjust="spacingAndGlyphs">12</text>
<text class="b" x="667" y="792" textLength="14" lengthAdjust="spacingAndGlyphs">13</text>
<text class="b" x="715" y="792" textLength="14" lengthAdjust="spacingAndGlyphs">14</text>
<text class="b" x="763" y="792" textLength="14" lengthAdjust="spacingAndGlyphs">15</text>
<text class="b" x="373.5" y="803" textLength="98" lengthAdjust="spacingAndGlyphs">TIME (MINUTES)</text>
<text class="t" x="21" y="803" textLength="215" lengthAdjust="spacingAndGlyphs" xml:space="preserve">Each Vertical Division = 1000.00 microvolts</text>
<text class="t" x="482" y="803" textLength="250" lengthAdjust="spacingAndGlyphs" xml:space="preserve">Traces clipped at plus/minus 20 vertical divisions</text>
<text class="t" x="2" y="805" textLength="6.5" lengthAdjust="spacingAndGlyphs">м</text>
<text class="t" x="826" y="57" textLength="10" lengthAdjust="spacingAndGlyphs" xml:space="preserve">DC</text>
<text class="t" x="830" y="61" textLength="15" lengthAdjust="spacingAndGlyphs" xml:space="preserve">491</text>
<text class="t" x="830" y="76" textLength="15" lengthAdjust="spacingAndGlyphs" xml:space="preserve">506</text>
<text class="t" x="830" y="91" textLength="15" lengthAdjust="spacingAndGlyphs" xml:space="preserve">528</text>
<text class="t" x="830" y="106" textLength="15" lengthAdjust="spacingAndGlyphs" xml:space="preserve">558</text>
<text class="t" x="830" y="121" textLength="15" lengthAdjust="spacingAndGlyphs" xml:space="preserve">581</text>
<text class="t" x="830" y="136" textLength="15" lengthAdjust="spacingAndGlyphs" xml:space="preserve">592</text>
<text class="t" x="830" y="151" textLength="15" lengthAdjust="spacingAndGlyphs" xml:space="preserve">613</text>
<text class="t" x="830" y="166" textLength="15" lengthAdjust="spacingAndGlyphs" xml:space="preserve">623</text>
<text class="t" x="830" y="181" textLength="15" lengthAdjust="spacingAndGlyphs" xml:space="preserve">639</text>
<text class="t" x="830" y="196" textLength="15" lengthAdjust="spacingAndGlyphs" xml:space="preserve">651</text>
<text class="t" x="830" y="211" textLength="15" lengthAdjust="spacingAndGlyphs" xml:space="preserve">665</text>
<text class="t" x="830" y="226" textLength="15" lengthAdjust="spacingAndGlyphs" xml:space="preserve">659</text>
<text class="t" x="830" y="241" textLength="15" lengthAdjust="spacingAndGlyphs" xml:space="preserve">658</text>
<text class="t" x="830" y="256" textLength="15" lengthAdjust="spacingAndGlyphs" xml:space="preserve">656</text>
<text class="t" x="830" y="271" textLength="15" lengthAdjust="spacingAndGlyphs" xml:space="preserve">668</text>
<text class="t" x="830" y="286" textLength="15" lengthAdjust="spacingAndGlyphs" xml:space="preserve">696</text>
</svg></body></html>
